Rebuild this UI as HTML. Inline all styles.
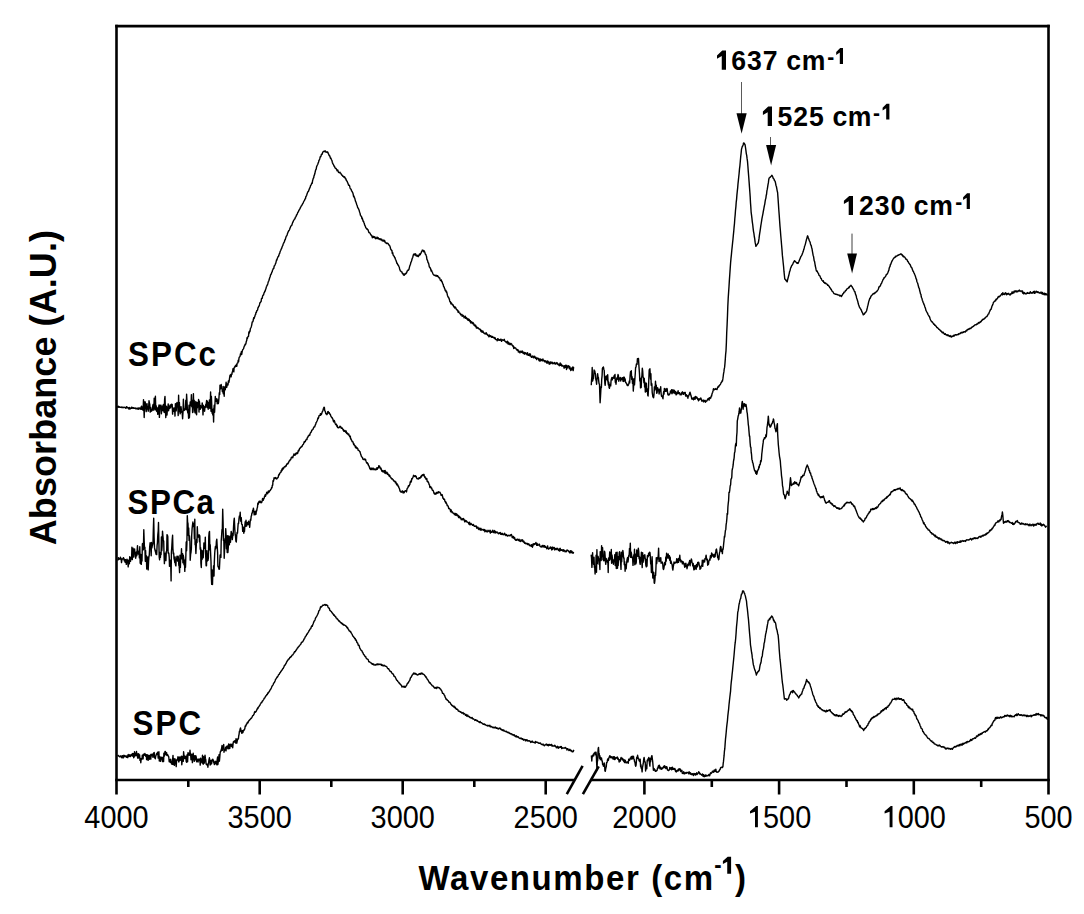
<!DOCTYPE html>
<html><head><meta charset="utf-8"><style>
html,body{margin:0;padding:0;background:#fff;}
svg{display:block;}
text{font-family:"Liberation Sans",sans-serif;fill:#000;}
</style></head><body>
<svg width="1084" height="914" viewBox="0 0 1084 914">
<rect width="1084" height="914" fill="#fff"/>
<g fill="none" stroke="#000" stroke-width="1.4" stroke-linejoin="round" stroke-linecap="round">
<polyline points="117.0,406.7 117.4,407.0 117.8,406.9 118.2,406.2 118.6,407.2 119.0,407.1 119.4,406.7 119.8,407.3 120.2,407.2 120.6,407.3 121.0,407.2 121.4,407.5 121.8,407.0 122.2,407.3 122.6,407.2 123.0,407.8 123.4,407.5 123.8,407.4 124.2,407.2 124.6,407.5 124.9,407.6 125.3,407.5 125.7,408.3 126.1,408.2 126.5,406.6 126.9,406.9 127.3,407.7 127.7,407.6 128.1,408.0 128.4,408.0 128.8,409.0 129.2,407.4 129.6,407.8 130.0,409.0 130.4,408.4 130.8,408.4 131.2,407.8 131.6,407.2 131.9,408.2 132.3,408.2 132.7,407.5 133.1,407.9 133.5,408.2 133.9,407.8 134.3,408.3 134.7,408.4 135.1,408.4 135.4,408.1 135.8,408.8 136.2,408.9 136.6,408.7 137.0,408.0 137.4,408.9 137.8,408.3 138.1,409.1 138.5,408.0 138.9,409.2 139.3,408.6 139.7,407.9 140.0,408.5 140.4,408.8 140.8,409.2 141.2,406.9 141.6,406.2 141.9,409.4 142.3,407.1 142.7,408.8 143.1,410.3 143.5,399.8 143.8,406.5 144.2,417.5 144.6,403.4 145.0,401.6 145.4,402.9 145.8,407.9 146.2,411.6 146.6,407.7 147.0,403.6 147.4,409.0 147.8,407.0 148.2,411.2 148.6,408.2 149.0,400.7 149.4,402.8 149.8,404.4 150.2,412.1 150.6,407.5 151.0,410.1 151.4,411.2 151.8,410.0 152.2,410.4 152.6,406.7 153.0,404.7 153.4,404.2 153.8,410.3 154.2,398.1 154.6,407.7 155.0,409.0 155.4,396.2 155.8,410.0 156.2,405.7 156.6,411.3 157.0,407.4 157.4,411.1 157.8,414.4 158.2,411.9 158.6,407.5 159.0,405.0 159.4,417.4 159.8,408.7 160.2,405.1 160.6,407.2 161.0,405.3 161.4,413.8 161.8,407.2 162.2,408.0 162.6,405.9 163.0,410.8 163.4,404.4 163.8,410.0 164.2,412.5 164.6,399.5 165.0,396.4 165.4,409.0 165.8,417.6 166.2,406.1 166.6,406.8 167.0,415.0 167.4,409.1 167.8,409.5 168.2,403.9 168.6,410.8 169.0,406.2 169.4,408.6 169.8,407.1 170.2,405.0 170.6,407.9 171.0,405.8 171.4,404.1 171.8,404.7 172.2,404.4 172.6,414.1 173.0,408.0 173.4,408.3 173.8,411.2 174.2,408.0 174.6,409.2 175.0,416.1 175.4,403.8 175.8,403.9 176.2,410.9 176.6,404.4 177.0,402.4 177.4,403.4 177.8,406.4 178.2,415.6 178.6,395.3 179.0,411.6 179.4,402.5 179.8,410.7 180.2,413.8 180.6,408.6 181.0,406.7 181.4,410.2 181.8,412.6 182.2,413.0 182.6,418.8 183.0,412.1 183.4,399.3 183.8,410.6 184.2,410.3 184.6,410.1 185.0,408.7 185.4,408.6 185.8,400.3 186.2,409.7 186.6,394.3 187.0,401.5 187.4,409.3 187.8,412.8 188.2,410.3 188.6,418.3 189.0,405.2 189.4,417.7 189.8,411.0 190.2,402.0 190.6,402.5 191.0,405.6 191.4,394.6 191.8,406.8 192.2,400.2 192.6,412.6 193.0,411.9 193.4,393.6 193.8,407.5 194.2,400.1 194.6,410.2 195.0,412.7 195.4,407.6 195.8,401.5 196.2,413.5 196.6,414.7 197.0,402.4 197.4,407.8 197.8,402.9 198.2,404.9 198.6,399.5 199.0,412.1 199.4,401.3 199.8,405.0 200.2,409.3 200.6,405.7 201.0,407.9 201.4,406.6 201.8,407.7 202.2,402.9 202.6,405.1 203.0,414.9 203.4,405.4 203.8,407.5 204.2,406.6 204.6,411.2 205.0,407.0 205.4,407.3 205.8,404.3 206.2,404.1 206.6,400.5 207.0,407.5 207.4,401.3 207.8,404.0 208.2,409.3 208.6,402.8 209.0,407.1 209.4,400.0 209.8,408.4 210.2,406.8 210.6,391.9 211.0,411.2 211.4,396.5 211.8,406.7 212.1,413.3 212.5,412.2 212.8,415.0 213.2,409.2 213.6,422.0 213.9,409.8 214.2,405.3 214.6,412.2 214.9,405.4 215.3,396.5 215.7,401.1 216.0,399.8 216.4,401.4 216.8,398.6 217.2,403.8 217.5,400.7 217.9,400.0 218.3,403.5 218.6,402.0 219.0,397.3 219.3,392.8 219.7,394.4 220.0,385.1 220.4,386.5 220.8,388.8 221.2,384.5 221.6,387.4 222.0,386.6 222.3,391.4 222.7,389.3 223.0,392.5 223.4,393.8 223.8,386.5 224.2,396.3 224.5,388.2 224.9,387.1 225.3,389.7 225.7,386.6 226.1,382.3 226.5,387.2 226.8,387.2 227.2,383.9 227.6,383.9 228.0,385.0 228.4,380.9 228.8,382.5 229.2,380.8 229.6,377.9 230.0,375.3 230.4,376.6 230.8,374.4 231.1,376.8 231.5,374.3 231.9,374.4 232.2,372.2 232.6,371.5 233.0,368.7 233.4,370.6 233.8,371.9 234.1,368.0 234.5,367.1 234.9,367.3 235.2,366.3 235.6,365.4 236.0,366.2 236.4,364.7 236.8,366.3 237.1,363.4 237.5,362.9 237.9,362.9 238.2,360.3 238.6,361.7 239.0,358.1 239.4,357.0 239.8,356.7 240.1,356.1 240.5,353.7 240.9,354.5 241.3,351.8 241.7,354.5 242.1,352.0 242.4,350.6 242.8,349.5 243.2,349.2 243.6,348.6 244.0,346.9 244.4,345.9 244.8,345.6 245.1,344.1 245.5,344.5 245.9,343.6 246.3,341.4 246.7,340.7 247.0,337.8 247.4,338.6 247.8,336.9 248.2,336.4 248.5,336.4 248.9,331.9 249.3,333.2 249.6,331.0 250.0,331.5 250.4,328.6 250.7,328.0 251.1,327.3 251.4,326.4 251.8,324.6 252.1,322.6 252.5,321.6 252.9,321.7 253.3,320.0 253.7,317.7 254.1,318.6 254.4,317.3 254.8,316.6 255.2,314.8 255.6,314.6 256.0,312.3 256.4,312.4 256.8,310.7 257.2,310.5 257.6,309.8 258.0,307.7 258.4,307.2 258.8,306.3 259.1,306.0 259.5,304.7 259.9,302.6 260.3,302.6 260.7,301.8 261.1,301.6 261.5,298.6 261.9,298.2 262.3,298.2 262.6,296.0 263.0,295.2 263.4,295.1 263.7,294.4 264.1,292.7 264.5,292.3 264.8,291.2 265.2,291.0 265.6,289.3 265.9,288.9 266.3,287.1 266.7,286.3 267.1,285.3 267.5,284.8 267.9,283.4 268.3,281.7 268.6,281.3 269.0,280.2 269.4,278.7 269.8,277.6 270.2,276.5 270.6,274.7 271.0,274.6 271.4,273.6 271.8,272.1 272.2,271.9 272.6,269.9 273.0,269.3 273.4,268.3 273.8,268.5 274.2,265.9 274.6,265.8 275.0,265.0 275.4,263.8 275.8,263.2 276.2,261.3 276.6,259.7 276.9,260.1 277.3,258.3 277.7,257.7 278.1,256.4 278.5,256.4 278.9,255.3 279.3,253.7 279.7,253.4 280.0,252.1 280.4,251.0 280.8,250.2 281.2,249.1 281.6,248.5 282.0,247.3 282.4,246.1 282.8,245.6 283.2,243.9 283.6,243.3 284.0,242.4 284.4,241.8 284.8,240.0 285.2,239.9 285.6,238.3 286.0,237.1 286.4,236.0 286.8,235.7 287.2,234.5 287.6,233.2 288.0,232.3 288.3,231.6 288.7,230.7 289.1,230.5 289.5,229.7 289.9,228.6 290.3,227.5 290.7,226.5 291.1,225.9 291.5,225.4 291.9,225.1 292.2,223.9 292.6,222.6 293.0,222.0 293.4,221.0 293.8,220.1 294.2,219.6 294.6,218.9 295.0,218.8 295.3,217.3 295.7,217.0 296.1,216.4 296.5,215.0 296.9,214.8 297.3,213.8 297.7,212.6 298.1,212.2 298.5,211.4 298.8,210.6 299.2,209.9 299.6,209.3 300.0,208.7 300.4,207.5 300.8,207.1 301.2,205.9 301.6,205.8 301.9,205.2 302.3,204.4 302.7,203.7 303.1,203.1 303.5,202.0 303.9,201.2 304.3,200.6 304.7,199.9 305.1,198.8 305.5,198.6 305.8,196.8 306.2,196.3 306.6,195.5 307.0,194.1 307.4,193.0 307.8,192.0 308.2,191.6 308.6,191.0 309.0,189.8 309.4,188.9 309.8,187.8 310.2,187.2 310.6,185.3 311.0,185.3 311.4,184.3 311.8,182.9 312.2,183.3 312.6,180.7 312.9,179.6 313.3,178.2 313.7,177.8 314.0,175.8 314.4,175.1 314.8,173.8 315.1,172.4 315.5,170.5 315.9,169.5 316.2,169.1 316.6,166.7 317.0,165.8 317.4,165.0 317.8,164.2 318.2,162.9 318.6,162.0 319.0,160.2 319.4,159.9 319.8,158.7 320.2,156.8 320.6,156.9 321.0,156.1 321.4,154.4 321.8,154.2 322.2,154.2 322.6,152.6 323.0,151.9 323.4,151.7 323.8,151.5 324.2,151.0 324.6,151.5 324.9,151.5 325.3,150.9 325.7,151.7 326.0,152.3 326.4,152.1 326.8,152.1 327.1,151.8 327.5,152.3 327.9,152.2 328.2,153.6 328.6,154.0 329.0,155.2 329.3,155.7 329.7,155.8 330.1,157.0 330.4,158.2 330.8,157.9 331.2,159.0 331.5,159.8 331.9,160.4 332.3,162.2 332.6,163.2 333.0,163.9 333.4,164.5 333.7,165.2 334.1,166.2 334.5,166.3 334.8,167.4 335.2,168.0 335.6,168.4 335.9,168.3 336.3,169.1 336.7,169.5 337.0,170.7 337.4,170.6 337.8,170.1 338.2,171.4 338.5,172.4 338.9,172.3 339.3,172.8 339.7,172.8 340.1,172.3 340.4,172.8 340.8,173.4 341.2,174.2 341.6,174.8 342.0,175.3 342.3,175.3 342.7,176.2 343.1,176.1 343.5,176.3 343.9,177.3 344.2,177.0 344.6,176.8 345.0,177.7 345.4,178.9 345.8,178.6 346.2,180.1 346.6,180.8 346.9,181.1 347.3,181.7 347.7,182.9 348.1,183.6 348.5,185.0 348.9,185.4 349.3,185.3 349.7,186.3 350.0,187.7 350.4,188.9 350.8,188.9 351.2,189.6 351.6,191.0 352.0,191.3 352.4,192.2 352.8,192.9 353.2,194.3 353.6,196.6 354.0,196.1 354.4,197.8 354.8,198.3 355.2,200.1 355.6,201.5 356.0,202.1 356.4,203.6 356.8,204.7 357.2,205.7 357.6,207.3 358.0,208.0 358.4,208.6 358.8,209.5 359.2,210.6 359.6,212.2 360.0,213.0 360.4,215.2 360.8,216.0 361.2,216.0 361.6,216.9 361.9,218.7 362.3,218.1 362.7,219.7 363.1,221.2 363.5,221.3 363.9,222.5 364.3,223.5 364.6,224.9 365.0,225.6 365.4,226.6 365.8,227.7 366.2,228.0 366.6,229.1 367.0,228.8 367.4,229.0 367.7,229.5 368.1,230.1 368.5,231.2 368.9,232.5 369.3,232.7 369.7,232.9 370.1,233.2 370.5,234.1 370.8,234.7 371.2,235.2 371.6,235.4 372.0,236.4 372.4,237.7 372.8,236.3 373.2,237.2 373.6,236.4 374.0,237.6 374.4,237.2 374.8,236.7 375.1,237.8 375.5,238.7 375.9,238.0 376.3,238.5 376.7,238.0 377.1,237.1 377.5,238.5 377.9,238.1 378.3,237.8 378.7,239.0 379.1,238.9 379.4,238.7 379.8,239.5 380.2,238.8 380.6,239.7 381.0,239.1 381.4,240.0 381.8,239.3 382.1,240.7 382.5,240.3 382.9,241.0 383.3,240.1 383.7,240.6 384.1,241.5 384.5,240.3 384.9,241.2 385.3,242.6 385.7,242.6 386.1,243.2 386.4,242.9 386.8,243.6 387.2,243.3 387.6,243.3 388.0,243.4 388.4,244.3 388.8,244.6 389.2,245.4 389.6,245.4 390.0,246.4 390.4,248.0 390.7,249.2 391.1,249.6 391.5,250.3 391.9,250.4 392.3,253.4 392.7,252.7 393.1,254.9 393.5,255.7 393.8,255.9 394.2,256.3 394.6,257.5 395.0,257.7 395.4,259.2 395.8,260.0 396.2,261.1 396.6,262.2 396.9,263.4 397.3,263.2 397.7,264.8 398.1,264.7 398.5,265.5 398.9,266.5 399.3,267.2 399.6,269.0 400.0,269.9 400.4,270.9 400.8,271.1 401.2,271.7 401.5,271.8 401.9,272.0 402.3,273.3 402.6,273.7 403.0,273.5 403.4,274.8 403.7,274.1 404.1,275.4 404.5,274.7 404.9,274.2 405.3,273.4 405.7,274.0 406.1,273.3 406.5,273.1 406.9,272.1 407.3,270.8 407.7,270.8 408.1,269.9 408.5,270.2 408.9,269.5 409.3,267.8 409.7,266.2 410.1,265.1 410.5,264.2 410.9,262.2 411.2,261.9 411.6,260.7 412.0,259.2 412.4,258.1 412.8,257.2 413.2,255.5 413.6,254.3 414.0,254.0 414.4,254.0 414.8,255.1 415.2,254.0 415.6,253.8 416.0,255.6 416.3,255.9 416.7,255.3 417.1,255.2 417.5,256.3 417.9,255.6 418.3,256.7 418.7,255.1 419.1,255.6 419.5,253.9 419.9,254.4 420.3,254.7 420.7,253.1 421.1,253.1 421.5,251.7 421.9,251.0 422.3,250.1 422.7,250.8 423.1,250.5 423.4,251.7 423.8,250.4 424.2,251.2 424.5,251.6 424.9,252.6 425.3,254.2 425.7,254.2 426.1,255.3 426.5,256.3 426.9,259.4 427.3,260.0 427.7,261.1 428.1,262.8 428.5,262.9 428.9,264.6 429.3,266.8 429.7,267.3 430.0,267.9 430.4,268.0 430.8,269.7 431.2,271.1 431.5,270.2 431.9,271.6 432.3,272.1 432.7,273.3 433.0,273.9 433.4,274.5 433.8,274.9 434.2,275.4 434.6,275.1 435.0,275.4 435.4,275.5 435.8,275.9 436.1,275.3 436.5,275.5 436.9,276.3 437.3,275.6 437.7,275.6 438.1,276.8 438.5,277.0 438.9,277.5 439.3,278.1 439.7,277.9 440.1,279.4 440.5,280.5 440.9,280.6 441.3,279.9 441.7,281.5 442.1,281.7 442.5,283.0 442.8,284.1 443.2,284.3 443.6,286.6 444.0,286.7 444.4,288.1 444.8,288.9 445.1,290.2 445.5,291.0 445.9,290.4 446.3,292.2 446.7,291.8 447.1,293.7 447.4,295.2 447.8,296.2 448.2,297.4 448.6,297.3 449.0,298.6 449.4,299.4 449.7,300.9 450.1,302.0 450.5,301.8 450.9,303.8 451.3,302.9 451.7,303.2 452.0,304.2 452.4,304.8 452.8,305.1 453.2,304.9 453.6,306.6 454.0,306.3 454.4,307.6 454.8,308.0 455.1,306.9 455.5,307.6 455.9,308.0 456.3,309.2 456.7,309.6 457.1,310.2 457.5,310.0 457.9,311.2 458.2,312.3 458.6,311.1 459.0,312.3 459.4,313.0 459.8,313.1 460.2,313.4 460.6,314.9 461.0,314.9 461.4,314.9 461.8,314.3 462.2,316.4 462.6,315.6 462.9,315.3 463.3,315.8 463.7,316.0 464.1,317.9 464.5,317.0 464.9,317.3 465.3,316.2 465.7,318.3 466.1,317.5 466.5,317.8 466.9,319.1 467.3,318.5 467.7,319.9 468.1,320.4 468.5,318.9 468.9,320.2 469.3,319.6 469.7,320.9 470.0,321.8 470.4,320.7 470.8,323.0 471.2,322.0 471.6,321.7 472.0,322.7 472.4,323.6 472.8,322.5 473.2,323.7 473.6,323.2 474.0,325.2 474.4,324.9 474.8,324.9 475.1,326.2 475.5,325.1 475.9,326.0 476.3,327.8 476.7,326.9 477.1,328.2 477.5,327.8 477.9,327.6 478.3,328.3 478.7,328.8 479.1,328.9 479.4,329.0 479.8,329.4 480.2,329.3 480.6,330.7 481.0,331.2 481.4,331.7 481.8,330.3 482.2,332.2 482.6,331.9 483.0,331.2 483.4,332.4 483.8,333.1 484.2,333.1 484.6,333.5 484.9,333.8 485.3,334.0 485.7,333.7 486.1,332.6 486.5,333.6 486.9,334.6 487.3,334.3 487.7,335.3 488.1,335.6 488.5,335.3 488.9,336.7 489.3,335.0 489.7,336.5 490.1,335.8 490.5,335.8 490.9,336.8 491.3,336.3 491.7,337.4 492.1,336.3 492.5,337.3 492.9,336.9 493.2,337.5 493.6,337.6 494.0,337.3 494.4,338.6 494.8,337.6 495.2,338.0 495.6,339.4 496.0,339.6 496.4,339.6 496.8,339.6 497.2,340.9 497.6,338.7 498.0,339.0 498.4,338.9 498.8,340.2 499.2,339.8 499.6,340.4 499.9,340.4 500.3,339.6 500.7,339.2 501.1,339.2 501.5,341.4 501.9,340.6 502.3,340.3 502.7,339.8 503.1,340.1 503.5,340.2 503.9,340.4 504.3,339.3 504.7,341.0 505.1,341.1 505.5,341.7 505.9,341.9 506.3,342.5 506.6,342.2 507.0,343.0 507.4,341.1 507.8,342.1 508.2,344.2 508.6,342.5 509.0,343.3 509.4,344.2 509.8,343.3 510.2,344.7 510.6,343.4 511.0,343.4 511.4,344.1 511.8,344.2 512.2,345.6 512.6,345.7 513.0,346.5 513.3,345.9 513.7,348.5 514.1,347.1 514.5,347.5 514.9,348.1 515.3,348.0 515.7,348.0 516.1,348.8 516.5,349.7 516.9,349.8 517.3,350.3 517.7,349.6 518.0,349.8 518.4,352.0 518.8,350.8 519.2,351.6 519.6,352.1 520.0,352.9 520.4,351.2 520.8,352.0 521.2,352.1 521.6,352.3 522.0,351.0 522.4,352.7 522.8,351.3 523.2,353.2 523.6,353.5 524.0,353.7 524.4,352.5 524.8,354.2 525.2,353.0 525.5,352.8 525.9,353.1 526.3,353.4 526.7,354.2 527.1,354.9 527.5,352.8 527.9,354.1 528.3,355.3 528.7,354.9 529.1,355.2 529.5,353.8 529.9,355.8 530.3,354.0 530.7,355.5 531.1,356.7 531.5,357.3 531.9,356.4 532.3,356.9 532.7,355.9 533.1,356.2 533.5,357.7 533.9,357.0 534.2,357.0 534.6,356.2 535.0,357.7 535.4,358.3 535.8,357.3 536.2,357.7 536.6,359.6 537.0,358.7 537.4,358.5 537.8,358.0 538.2,358.6 538.6,359.0 539.0,360.5 539.4,358.9 539.8,361.1 540.2,358.9 540.6,359.5 540.9,360.7 541.3,359.9 541.7,359.5 542.1,360.2 542.5,360.8 542.9,359.0 543.3,360.4 543.7,360.7 544.1,360.5 544.5,361.7 544.9,360.6 545.3,360.9 545.6,361.4 546.0,362.2 546.4,361.4 546.8,363.1 547.2,361.0 547.6,363.1 548.0,361.3 548.4,362.0 548.8,362.6 549.2,364.2 549.6,363.2 550.0,362.0 550.4,363.7 550.7,362.3 551.1,361.9 551.5,363.1 551.9,362.8 552.3,363.7 552.7,362.3 553.1,363.3 553.5,363.6 553.9,363.3 554.3,363.1 554.7,362.5 555.1,364.1 555.4,363.4 555.8,363.9 556.2,363.1 556.6,363.5 557.0,362.6 557.4,363.7 557.8,364.5 558.2,364.0 558.6,364.9 559.0,364.5 559.4,365.7 559.8,364.3 560.2,363.0 560.6,365.3 561.0,364.9 561.4,364.2 561.8,366.0 562.1,365.8 562.5,366.1 562.9,365.5 563.3,366.2 563.7,366.4 564.1,368.2 564.5,365.8 564.9,366.7 565.3,367.2 565.7,365.2 566.1,365.4 566.5,369.5 566.9,365.4 567.3,368.0 567.7,366.6 568.1,366.8 568.5,365.6 568.9,366.8 569.3,368.7 569.7,366.5 570.0,368.7 570.4,368.5 570.8,370.5 571.2,367.9 571.6,369.9 572.0,369.6 572.4,368.4 572.8,367.0 573.2,370.6 573.6,367.5"/>
<polyline points="591.3,384.6 591.6,379.2 591.9,376.3 592.2,367.4 592.5,381.1 592.8,380.5 593.1,377.4 593.5,378.5 593.8,374.7 594.1,370.0 594.5,372.3 594.8,371.0 595.2,373.5 595.5,374.6 595.9,380.2 596.2,380.4 596.6,384.2 597.0,378.7 597.3,378.8 597.6,373.7 598.0,376.8 598.4,377.6 598.7,380.8 599.1,383.8 599.5,384.2 599.8,394.3 600.1,402.7 600.5,396.6 600.8,391.1 601.1,386.5 601.4,387.5 601.7,379.4 602.1,375.6 602.4,368.4 602.8,367.4 603.1,367.7 603.4,366.9 603.8,369.2 604.2,370.4 604.5,377.2 604.9,383.8 605.2,385.3 605.6,378.6 605.9,376.4 606.3,375.9 606.6,379.3 607.0,377.2 607.4,380.7 607.7,374.7 608.1,382.9 608.4,385.0 608.8,382.3 609.1,387.7 609.5,388.3 609.9,384.5 610.3,384.8 610.7,385.9 611.1,380.3 611.5,378.8 611.9,377.5 612.3,379.9 612.7,377.8 613.1,377.4 613.5,377.2 613.9,378.3 614.2,375.6 614.6,375.3 615.0,374.5 615.3,382.2 615.6,380.6 616.0,384.2 616.4,380.3 616.8,378.0 617.2,379.6 617.6,377.7 618.0,374.5 618.4,375.5 618.8,381.2 619.2,378.6 619.6,379.1 619.9,378.0 620.3,377.5 620.7,381.0 621.1,379.3 621.5,378.3 621.9,379.3 622.3,377.6 622.7,379.6 623.1,381.3 623.5,377.1 623.9,381.5 624.3,377.1 624.7,379.8 625.1,378.9 625.4,381.2 625.8,382.8 626.2,382.9 626.6,383.5 626.9,384.6 627.3,385.4 627.7,385.0 628.1,385.4 628.5,384.6 628.9,383.6 629.3,381.0 629.7,382.9 630.1,375.9 630.5,371.8 630.9,375.9 631.3,370.7 631.7,379.4 632.1,376.6 632.5,383.4 632.9,378.9 633.3,391.1 633.7,384.5 634.1,378.6 634.5,384.9 634.9,378.6 635.3,373.1 635.6,367.5 636.0,367.2 636.4,364.0 636.7,364.3 637.1,364.2 637.4,358.8 637.8,358.8 638.1,358.5 638.5,358.5 638.8,363.9 639.1,368.4 639.5,373.9 639.8,381.0 640.2,378.3 640.5,387.9 640.9,381.5 641.2,387.5 641.6,377.1 641.9,376.2 642.3,368.2 642.7,371.2 643.1,377.2 643.5,377.7 643.9,382.7 644.3,378.5 644.6,387.0 645.0,382.2 645.3,392.1 645.7,385.7 646.0,391.3 646.4,383.2 646.7,391.4 647.1,388.6 647.4,391.8 647.8,395.4 648.1,396.0 648.5,388.1 648.8,379.9 649.2,369.7 649.6,370.2 649.9,368.8 650.2,373.9 650.6,379.1 650.9,373.7 651.2,385.2 651.6,383.1 651.9,384.4 652.2,392.3 652.6,394.9 652.9,397.0 653.3,396.4 653.6,397.7 654.0,394.5 654.4,386.9 654.7,390.4 655.1,389.1 655.5,381.2 655.9,388.9 656.3,385.1 656.7,393.2 657.1,392.7 657.5,387.7 657.9,388.2 658.3,390.8 658.7,389.7 659.1,394.0 659.5,391.7 659.9,389.0 660.3,390.8 660.7,386.7 661.1,393.5 661.5,396.2 661.9,395.8 662.3,396.5 662.6,397.6 663.0,398.8 663.3,394.7 663.7,391.5 664.0,394.1 664.4,388.4 664.8,391.3 665.1,389.7 665.5,391.3 665.8,389.0 666.1,391.3 666.5,389.9 666.9,388.4 667.2,389.0 667.5,391.9 667.9,394.7 668.2,394.2 668.6,395.1 669.0,394.1 669.4,394.7 669.8,393.7 670.1,393.0 670.5,391.0 670.9,392.8 671.3,392.4 671.6,389.6 672.0,393.8 672.4,392.2 672.7,391.1 673.0,389.7 673.4,392.7 673.8,392.7 674.1,391.6 674.5,390.3 674.9,393.5 675.3,391.7 675.7,391.8 676.1,394.8 676.5,394.6 676.9,393.3 677.3,392.1 677.7,393.6 678.1,390.8 678.4,393.6 678.8,392.9 679.2,392.7 679.6,392.7 680.0,394.7 680.4,394.2 680.8,394.2 681.2,394.8 681.6,392.9 682.0,392.5 682.4,391.8 682.8,393.3 683.1,394.4 683.5,393.5 683.8,394.2 684.1,392.4 684.5,393.1 684.9,392.9 685.2,392.4 685.6,396.0 686.0,395.6 686.4,394.7 686.7,395.3 687.1,396.5 687.5,395.8 687.9,398.2 688.2,395.9 688.6,396.1 689.0,394.8 689.3,394.6 689.6,393.1 690.0,392.2 690.4,393.5 690.7,394.6 691.0,395.8 691.4,396.9 691.8,399.0 692.1,399.2 692.5,398.3 692.8,399.1 693.2,397.9 693.6,399.8 694.0,399.0 694.3,397.3 694.7,399.1 695.1,399.2 695.5,396.5 695.8,397.9 696.2,398.1 696.6,396.9 697.0,397.7 697.3,397.9 697.7,399.2 698.1,399.1 698.5,400.8 698.9,398.6 699.3,399.9 699.6,399.1 700.0,399.4 700.4,398.3 700.8,397.9 701.2,399.0 701.6,400.4 701.9,401.2 702.3,400.6 702.7,400.8 703.1,400.0 703.5,401.8 703.9,401.7 704.3,400.5 704.7,401.0 705.1,400.4 705.5,402.2 705.9,401.6 706.2,401.0 706.6,401.0 707.0,400.8 707.3,400.0 707.6,399.2 708.0,399.0 708.4,398.4 708.7,399.5 709.1,400.2 709.4,397.8 709.8,398.6 710.1,398.5 710.4,397.5 710.8,397.9 711.2,396.0 711.6,396.0 712.0,393.9 712.3,393.1 712.7,392.2 713.1,390.5 713.5,388.6 713.9,389.2 714.3,389.7 714.7,389.2 715.1,389.3 715.4,388.6 715.8,389.1 716.2,389.3 716.6,388.9 717.0,389.6 717.4,388.1 717.8,387.2 718.2,386.4 718.6,386.9 719.0,385.8 719.4,385.7 719.8,384.9 720.2,384.7 720.6,384.0 721.0,382.8 721.3,382.4 721.7,382.1 722.1,380.7 722.5,381.0 722.9,378.7 723.2,376.5 723.5,373.9 723.9,371.9 724.2,369.2 724.6,367.4 725.0,363.1 725.3,359.1 725.6,354.8 726.0,350.9 726.4,342.4 726.7,332.9 727.1,324.9 727.5,315.3 727.8,306.5 728.2,298.4 728.6,292.4 729.0,286.5 729.4,279.9 729.8,274.3 730.2,268.4 730.6,262.7 731.0,258.4 731.4,254.6 731.8,250.3 732.2,246.6 732.6,242.6 733.0,239.0 733.4,234.6 733.8,230.7 734.1,227.1 734.5,223.3 734.8,218.8 735.2,214.6 735.5,210.3 735.9,206.6 736.2,202.4 736.6,199.1 736.9,195.1 737.3,191.1 737.7,187.6 738.0,183.8 738.4,180.1 738.7,177.3 739.1,173.5 739.5,168.9 739.9,165.8 740.3,161.3 740.7,156.9 741.1,153.3 741.5,149.2 741.9,147.9 742.3,146.5 742.7,146.0 743.1,145.0 743.5,143.1 743.9,142.9 744.2,143.5 744.5,143.7 744.8,144.5 745.1,144.9 745.5,147.5 745.9,150.3 746.3,153.6 746.7,155.4 747.1,158.7 747.5,161.4 747.9,166.3 748.3,171.6 748.7,176.5 749.1,181.9 749.5,187.4 749.9,192.7 750.2,197.1 750.5,202.9 750.8,206.8 751.1,211.8 751.5,214.9 751.9,218.1 752.3,221.8 752.7,224.5 753.1,228.2 753.5,231.3 753.9,233.3 754.3,236.5 754.7,238.7 755.1,242.2 755.5,244.0 755.9,246.4 756.3,245.5 756.7,245.1 757.1,244.7 757.5,244.0 757.9,243.3 758.3,242.9 758.7,240.6 759.0,238.7 759.4,235.4 759.7,233.3 760.1,230.8 760.5,228.2 760.8,225.9 761.2,223.5 761.5,221.6 761.9,218.9 762.3,216.9 762.6,215.3 763.0,213.3 763.3,211.3 763.7,209.5 764.1,207.2 764.4,205.7 764.8,203.8 765.1,201.6 765.5,199.4 765.9,198.1 766.2,195.5 766.6,194.0 766.9,190.9 767.3,189.2 767.7,186.6 768.0,184.7 768.4,182.7 768.7,180.0 769.1,178.1 769.5,177.8 769.9,177.4 770.3,177.1 770.6,176.9 771.0,176.4 771.4,175.9 771.8,175.3 772.2,175.8 772.6,176.6 772.9,177.3 773.3,178.4 773.7,178.8 774.1,179.2 774.4,180.5 774.8,180.8 775.2,181.5 775.6,183.4 776.0,185.5 776.4,186.5 776.8,188.6 777.2,190.8 777.6,192.5 778.0,197.9 778.4,203.6 778.8,209.8 779.2,214.9 779.6,220.8 780.0,226.4 780.4,230.9 780.8,236.0 781.2,240.5 781.6,245.3 782.0,249.9 782.4,255.4 782.8,259.0 783.2,263.0 783.6,266.8 784.0,271.7 784.4,275.4 784.8,279.2 785.1,279.3 785.5,279.4 785.8,280.3 786.2,280.7 786.5,280.5 786.9,281.6 787.2,281.8 787.6,279.7 788.0,278.2 788.4,276.7 788.8,275.2 789.2,273.6 789.6,271.5 790.0,270.8 790.4,268.9 790.8,267.6 791.2,267.0 791.5,265.9 791.9,265.5 792.2,265.0 792.6,264.4 793.0,263.5 793.3,262.7 793.7,262.3 794.0,261.5 794.4,260.9 794.8,260.7 795.1,261.6 795.5,261.5 795.8,261.9 796.2,262.3 796.6,262.6 796.9,263.3 797.3,263.1 797.6,262.8 798.0,263.5 798.4,262.4 798.8,261.8 799.2,260.6 799.6,259.7 800.0,258.8 800.4,257.9 800.8,256.7 801.2,256.1 801.6,255.4 802.0,254.9 802.4,253.5 802.8,252.6 803.2,251.6 803.5,250.3 803.9,249.3 804.3,247.7 804.6,246.2 805.0,245.3 805.4,244.1 805.8,242.2 806.1,241.1 806.5,239.3 806.9,238.4 807.2,236.9 807.6,235.8 808.0,236.7 808.3,237.8 808.7,238.7 809.0,239.9 809.4,240.8 809.8,241.5 810.1,242.2 810.5,244.0 810.8,245.0 811.2,245.4 811.6,247.5 812.0,248.7 812.3,250.6 812.7,252.8 813.1,255.2 813.5,256.3 813.8,258.2 814.2,260.8 814.6,261.6 815.0,264.2 815.3,266.0 815.7,267.7 816.1,269.7 816.5,271.0 816.9,270.7 817.3,271.7 817.7,272.4 818.1,273.0 818.5,273.5 818.9,275.1 819.3,275.4 819.7,275.6 820.1,276.6 820.5,277.6 820.9,278.4 821.3,278.5 821.7,279.7 822.1,280.5 822.5,280.8 822.9,281.2 823.3,280.8 823.7,282.2 824.1,282.1 824.5,282.9 824.9,283.3 825.3,282.9 825.7,282.9 826.1,283.9 826.5,283.9 826.9,284.1 827.3,284.3 827.7,285.4 828.1,285.1 828.5,285.3 828.9,286.2 829.3,286.5 829.7,287.5 830.1,287.9 830.5,288.2 830.9,289.3 831.3,289.5 831.7,290.5 832.1,291.2 832.5,291.3 832.9,291.7 833.3,292.5 833.7,293.3 834.1,293.6 834.5,293.8 834.9,293.9 835.3,294.1 835.7,294.3 836.1,294.1 836.5,294.3 836.9,294.5 837.3,294.5 837.7,294.8 838.1,295.1 838.5,295.1 838.9,295.0 839.3,295.1 839.7,296.0 840.1,295.9 840.5,295.4 840.9,295.6 841.3,296.6 841.7,296.0 842.0,295.1 842.4,295.0 842.8,293.7 843.1,293.7 843.5,293.5 843.9,292.2 844.3,292.1 844.6,292.1 845.0,291.7 845.4,290.7 845.7,290.5 846.1,290.5 846.5,289.5 846.9,288.9 847.2,288.9 847.6,288.4 848.0,288.5 848.4,287.8 848.7,287.2 849.1,287.7 849.5,286.5 849.9,286.4 850.2,286.1 850.6,285.8 851.0,285.3 851.4,286.0 851.7,286.4 852.1,286.6 852.4,287.5 852.8,288.1 853.2,288.7 853.5,289.4 853.9,289.8 854.2,291.0 854.6,291.7 855.0,291.8 855.4,293.8 855.8,294.9 856.2,295.7 856.6,297.9 857.0,298.9 857.4,300.2 857.8,301.5 858.2,303.3 858.6,304.7 859.0,305.7 859.4,307.1 859.8,307.6 860.2,308.4 860.6,308.9 861.0,309.8 861.4,310.3 861.7,311.4 862.1,312.2 862.5,312.8 862.9,313.8 863.3,314.9 863.7,314.3 864.1,314.4 864.5,313.7 864.9,313.2 865.3,312.4 865.7,312.3 866.1,311.7 866.5,311.0 866.9,309.5 867.3,307.9 867.7,305.8 868.0,305.2 868.4,303.2 868.8,301.4 869.2,300.2 869.6,299.1 870.0,297.9 870.4,298.0 870.8,296.5 871.2,296.1 871.6,295.4 872.0,295.0 872.4,294.7 872.8,294.2 873.1,293.7 873.5,293.5 873.9,293.8 874.3,293.7 874.7,293.1 875.1,292.5 875.5,292.8 875.8,292.2 876.2,291.9 876.6,291.7 877.0,291.3 877.3,290.6 877.7,290.2 878.1,289.6 878.5,288.8 878.8,287.3 879.2,286.8 879.6,286.7 879.9,286.0 880.3,286.0 880.7,284.7 881.0,283.9 881.4,283.5 881.8,282.8 882.1,281.6 882.5,281.1 882.9,279.9 883.3,279.2 883.6,279.1 884.0,277.6 884.4,277.8 884.7,277.3 885.1,276.9 885.5,276.4 885.9,275.9 886.2,274.6 886.6,274.5 887.0,274.1 887.3,274.1 887.7,273.1 888.1,272.0 888.5,270.9 888.9,270.2 889.2,268.2 889.6,267.1 890.0,266.5 890.4,264.5 890.8,264.4 891.1,263.3 891.5,262.2 891.8,261.7 892.1,260.7 892.5,260.3 892.9,259.5 893.2,259.0 893.6,258.3 893.9,258.1 894.3,257.6 894.7,257.5 895.0,257.5 895.4,256.3 895.8,256.8 896.2,256.2 896.5,256.1 896.9,255.9 897.3,255.9 897.6,255.5 898.0,255.1 898.4,255.2 898.8,254.9 899.1,254.7 899.5,254.6 899.9,254.6 900.2,254.2 900.6,254.0 901.0,253.9 901.3,254.5 901.7,254.3 902.1,255.3 902.5,255.1 902.8,256.1 903.2,256.7 903.6,256.1 903.9,256.9 904.3,256.9 904.7,257.1 905.0,257.5 905.4,258.3 905.8,259.1 906.1,259.2 906.5,259.1 906.9,259.7 907.3,260.4 907.6,261.3 908.0,261.5 908.4,262.1 908.7,263.0 909.1,263.3 909.5,263.9 909.9,264.5 910.2,264.7 910.6,266.0 911.0,266.6 911.3,267.5 911.7,267.4 912.1,268.4 912.4,269.7 912.8,270.4 913.2,271.5 913.5,271.7 913.9,272.8 914.3,273.4 914.7,274.5 915.0,275.1 915.4,276.3 915.8,277.6 916.1,278.7 916.5,279.2 916.8,281.2 917.2,282.2 917.6,283.0 917.9,284.2 918.3,285.7 918.6,287.1 919.0,288.0 919.4,288.9 919.7,290.8 920.1,292.0 920.5,293.9 920.9,294.2 921.2,296.5 921.6,297.7 922.0,298.5 922.3,300.2 922.7,301.0 923.1,302.3 923.4,302.8 923.8,304.1 924.2,304.8 924.5,305.6 924.9,307.0 925.3,307.9 925.7,309.3 926.0,310.6 926.4,311.1 926.8,312.0 927.2,312.8 927.5,313.0 927.9,314.3 928.3,315.0 928.7,315.8 929.1,316.2 929.5,316.7 929.9,318.0 930.2,319.0 930.6,320.0 931.0,320.7 931.4,321.3 931.8,321.4 932.1,322.1 932.5,322.2 932.9,322.9 933.3,323.4 933.7,324.3 934.1,324.1 934.5,324.1 934.8,325.4 935.2,325.2 935.6,325.9 936.0,326.2 936.4,326.4 936.8,327.5 937.2,327.6 937.6,327.7 938.0,328.3 938.3,328.5 938.7,329.2 939.1,329.3 939.5,329.6 939.9,330.0 940.3,330.5 940.7,331.0 941.1,330.9 941.4,331.5 941.8,331.9 942.2,332.8 942.6,332.7 943.0,332.0 943.4,332.8 943.8,333.2 944.1,333.7 944.5,334.4 944.9,334.4 945.3,333.7 945.7,334.6 946.1,334.7 946.5,334.9 946.9,335.4 947.3,334.8 947.7,335.6 948.1,334.9 948.5,335.6 948.9,335.8 949.3,336.5 949.7,335.8 950.1,335.6 950.5,336.5 950.9,336.3 951.3,337.1 951.7,336.2 952.1,336.1 952.4,336.5 952.8,336.1 953.2,336.2 953.6,335.3 954.0,336.1 954.4,335.3 954.7,335.6 955.1,334.9 955.5,334.6 955.9,334.8 956.3,334.8 956.7,335.1 957.0,334.6 957.4,334.6 957.8,334.4 958.2,334.7 958.6,333.7 959.0,334.2 959.4,333.6 959.7,333.6 960.1,333.2 960.5,333.6 960.9,332.7 961.3,332.5 961.7,332.7 962.1,332.3 962.5,332.7 962.9,332.6 963.3,332.0 963.6,332.3 964.0,331.7 964.4,331.8 964.8,331.6 965.2,332.1 965.6,331.3 966.0,330.7 966.4,330.5 966.7,330.9 967.1,329.8 967.5,329.9 967.9,329.7 968.3,328.9 968.7,329.2 969.0,329.4 969.4,328.9 969.8,328.3 970.2,328.6 970.6,328.3 971.0,328.5 971.3,327.4 971.7,327.3 972.1,327.2 972.5,326.9 972.9,326.7 973.3,326.4 973.7,326.0 974.1,325.5 974.4,325.5 974.8,325.0 975.2,324.9 975.6,324.8 976.0,324.9 976.4,324.7 976.8,323.9 977.2,324.1 977.6,324.0 978.0,323.5 978.3,322.8 978.7,322.4 979.1,323.0 979.5,322.8 979.9,322.4 980.3,321.6 980.7,322.0 981.1,321.6 981.5,320.9 981.8,320.5 982.2,319.7 982.6,320.1 983.0,319.1 983.4,319.4 983.8,319.1 984.2,318.6 984.6,318.7 985.0,317.7 985.4,317.7 985.7,317.4 986.1,316.9 986.5,316.4 986.9,316.5 987.3,315.9 987.7,315.1 988.0,314.4 988.4,313.9 988.8,313.9 989.1,312.6 989.5,311.8 989.9,310.9 990.3,310.2 990.6,309.3 991.0,309.4 991.4,308.3 991.8,306.8 992.2,305.6 992.6,305.0 993.0,303.9 993.4,302.5 993.8,302.1 994.2,301.7 994.5,301.2 994.9,301.2 995.3,300.2 995.6,300.8 996.0,299.3 996.4,299.6 996.8,299.3 997.1,298.5 997.5,298.5 997.9,297.2 998.3,296.7 998.6,297.0 999.0,296.3 999.4,296.7 999.8,296.0 1000.2,296.0 1000.6,295.4 1001.0,295.0 1001.3,294.5 1001.7,293.8 1002.1,293.4 1002.5,294.9 1002.8,292.6 1003.2,293.6 1003.6,294.3 1004.0,293.9 1004.3,294.5 1004.7,294.0 1005.1,292.9 1005.4,293.5 1005.8,292.8 1006.2,294.4 1006.5,294.7 1006.9,293.7 1007.2,294.4 1007.6,293.9 1008.0,293.4 1008.3,294.0 1008.7,293.4 1009.0,294.1 1009.4,294.7 1009.8,294.8 1010.1,295.0 1010.5,293.8 1010.9,294.0 1011.3,293.9 1011.6,293.8 1012.0,291.9 1012.4,292.6 1012.8,293.4 1013.1,292.0 1013.5,292.7 1013.9,292.8 1014.3,291.0 1014.6,291.8 1015.0,291.9 1015.4,291.7 1015.8,290.7 1016.2,291.8 1016.6,291.2 1017.0,291.9 1017.4,291.6 1017.8,291.0 1018.1,291.4 1018.5,290.8 1018.9,290.7 1019.3,290.1 1019.7,290.8 1020.1,291.4 1020.5,290.9 1020.9,291.0 1021.3,290.9 1021.7,291.1 1022.1,292.1 1022.5,291.0 1022.9,293.3 1023.2,292.2 1023.6,293.8 1024.0,293.4 1024.4,292.6 1024.8,293.5 1025.2,293.4 1025.6,293.7 1026.0,294.1 1026.4,293.2 1026.8,293.1 1027.2,293.2 1027.6,292.5 1027.9,293.1 1028.3,293.4 1028.7,293.3 1029.1,293.2 1029.5,292.8 1029.9,293.4 1030.3,291.6 1030.7,292.6 1031.1,292.5 1031.5,293.2 1031.8,293.0 1032.2,293.0 1032.6,292.5 1033.0,293.0 1033.4,291.7 1033.8,292.4 1034.2,291.1 1034.6,293.4 1035.0,293.4 1035.4,292.1 1035.8,291.9 1036.2,291.2 1036.6,291.6 1037.0,292.6 1037.4,292.4 1037.8,291.7 1038.2,292.3 1038.6,292.2 1039.0,292.9 1039.4,293.1 1039.8,292.7 1040.2,293.0 1040.6,293.0 1041.0,291.9 1041.4,293.4 1041.8,293.3 1042.1,293.9 1042.5,292.5 1042.9,294.1 1043.3,293.4 1043.7,294.1 1044.1,294.7 1044.5,293.2 1044.9,293.4 1045.3,294.8 1045.7,293.6 1046.1,293.8 1046.5,294.8 1046.9,294.3 1047.3,295.0"/>
<polyline points="118.0,560.0 118.4,557.7 118.8,559.4 119.2,558.7 119.6,558.8 120.0,559.0 120.4,557.1 120.8,559.1 121.1,558.3 121.5,562.6 121.9,559.8 122.3,559.0 122.7,559.1 123.1,558.4 123.5,557.7 123.9,558.9 124.3,560.8 124.7,559.4 125.1,562.2 125.5,559.7 125.9,560.3 126.3,564.4 126.6,562.0 127.0,559.2 127.4,560.2 127.8,562.5 128.2,566.9 128.6,560.2 129.0,560.4 129.4,563.8 129.7,556.7 130.1,558.0 130.5,561.4 130.8,559.6 131.2,557.1 131.6,558.9 131.9,547.3 132.3,559.6 132.7,551.6 133.1,548.3 133.4,555.7 133.8,557.0 134.2,552.0 134.6,548.9 134.9,553.0 135.3,552.3 135.7,558.2 136.1,554.9 136.4,552.0 136.8,555.7 137.2,549.3 137.5,545.6 137.9,552.1 138.3,554.0 138.7,552.1 139.0,551.2 139.4,557.9 139.8,546.8 140.2,563.2 140.5,563.6 140.9,554.4 141.3,564.4 141.7,555.9 142.0,561.1 142.4,543.8 142.7,546.0 143.1,543.2 143.4,549.7 143.8,529.7 144.2,541.2 144.5,548.5 144.9,547.1 145.3,561.3 145.6,550.5 146.0,561.5 146.4,555.6 146.7,569.1 147.1,563.1 147.4,562.6 147.8,557.0 148.2,569.9 148.6,561.1 148.9,557.0 149.3,554.8 149.7,546.7 150.1,542.8 150.4,542.9 150.8,543.9 151.2,555.7 151.5,542.5 151.9,547.8 152.3,545.7 152.6,544.8 153.0,543.1 153.3,530.4 153.7,518.3 154.1,537.2 154.5,547.4 154.8,549.3 155.2,550.7 155.6,552.2 156.0,554.2 156.3,550.4 156.7,554.6 157.1,545.4 157.4,543.0 157.8,534.8 158.2,531.0 158.5,522.4 158.9,543.1 159.2,556.9 159.6,559.8 160.0,552.5 160.4,557.4 160.7,552.5 161.1,554.6 161.4,537.0 161.8,550.6 162.1,546.5 162.5,531.1 162.9,535.9 163.3,539.9 163.7,541.1 164.0,553.4 164.4,563.6 164.8,555.6 165.2,553.1 165.6,556.5 165.9,560.6 166.3,551.6 166.7,550.8 167.0,534.6 167.4,535.1 167.8,536.7 168.1,552.9 168.5,553.3 168.8,553.1 169.2,557.1 169.5,566.4 169.9,565.1 170.3,560.1 170.7,563.4 171.1,580.9 171.4,552.2 171.8,546.8 172.2,539.9 172.6,535.3 172.9,548.3 173.3,553.7 173.7,553.1 174.0,558.5 174.4,560.0 174.8,562.6 175.1,556.9 175.5,564.8 175.9,565.9 176.2,559.8 176.6,559.6 177.0,556.1 177.3,556.8 177.7,561.1 178.1,556.2 178.5,559.0 178.8,565.3 179.2,565.9 179.6,572.6 180.0,555.1 180.4,567.4 180.7,558.3 181.1,558.9 181.5,548.8 181.8,558.7 182.2,556.0 182.6,553.6 182.9,562.8 183.3,555.3 183.7,558.0 184.0,564.7 184.4,559.9 184.8,571.4 185.1,563.5 185.5,567.2 185.9,554.0 186.2,542.0 186.6,550.7 186.9,543.6 187.3,515.6 187.6,521.8 188.0,523.6 188.4,535.6 188.7,528.0 189.1,540.4 189.5,535.8 189.9,541.3 190.2,560.3 190.6,554.4 191.0,552.4 191.4,548.2 191.7,535.1 192.1,528.7 192.5,525.1 192.9,522.0 193.2,525.3 193.6,526.6 194.0,523.7 194.4,538.7 194.8,519.3 195.1,544.7 195.5,544.6 195.9,553.5 196.3,545.2 196.6,539.1 197.0,542.6 197.3,526.7 197.7,535.2 198.0,537.0 198.4,536.9 198.8,537.3 199.1,534.8 199.5,541.8 199.8,535.7 200.2,549.3 200.6,547.8 200.9,563.1 201.3,567.5 201.7,550.2 202.1,559.5 202.4,556.9 202.8,551.0 203.2,557.7 203.6,551.5 203.9,542.9 204.3,548.3 204.6,546.9 205.0,546.1 205.3,537.3 205.7,555.9 206.1,565.8 206.5,565.8 206.9,550.7 207.2,561.1 207.6,553.7 208.0,560.3 208.4,558.0 208.8,536.6 209.1,532.7 209.5,531.4 209.9,550.1 210.2,544.6 210.6,553.0 211.0,561.8 211.3,576.1 211.7,584.4 212.1,570.0 212.5,584.5 212.8,572.9 213.2,574.9 213.6,565.6 214.0,576.1 214.3,562.4 214.7,553.5 215.0,549.8 215.4,546.5 215.7,548.7 216.1,546.6 216.4,541.1 216.8,539.1 217.2,546.3 217.6,552.4 217.9,566.1 218.3,566.9 218.7,568.0 219.0,569.2 219.4,569.1 219.8,560.9 220.1,555.0 220.5,557.4 220.9,557.4 221.2,540.9 221.6,535.6 222.0,529.5 222.3,530.4 222.7,509.2 223.1,522.4 223.4,540.6 223.8,538.6 224.2,558.2 224.6,549.8 224.9,540.7 225.3,540.8 225.7,528.6 226.1,535.3 226.4,548.8 226.8,537.8 227.2,552.6 227.5,535.6 227.9,552.5 228.3,547.1 228.6,535.9 229.0,542.4 229.4,544.8 229.7,538.0 230.1,536.3 230.5,542.3 230.8,536.8 231.2,531.4 231.6,534.3 231.9,533.1 232.3,539.6 232.7,535.9 233.1,535.7 233.5,527.6 233.9,521.0 234.3,518.1 234.7,526.8 235.1,534.2 235.5,536.2 235.9,541.2 236.3,542.0 236.7,535.5 237.1,532.4 237.5,533.2 237.9,527.1 238.2,523.2 238.6,523.5 239.0,518.5 239.4,515.9 239.8,517.5 240.2,512.2 240.6,521.1 240.9,519.6 241.3,517.7 241.6,523.7 242.0,524.9 242.3,524.5 242.7,531.4 243.0,528.8 243.4,527.3 243.8,533.3 244.1,528.2 244.5,531.5 244.9,524.7 245.2,521.7 245.6,526.4 246.0,520.3 246.3,523.3 246.7,526.0 247.1,523.1 247.5,522.6 247.8,523.0 248.2,524.6 248.6,521.1 249.0,524.0 249.3,523.9 249.7,527.3 250.1,522.2 250.5,519.1 250.8,520.2 251.2,516.2 251.6,515.5 251.9,513.2 252.3,513.0 252.7,510.2 253.0,511.4 253.4,508.1 253.8,510.8 254.2,514.9 254.5,511.7 254.9,512.0 255.3,511.6 255.6,514.6 256.0,514.3 256.4,510.3 256.7,511.0 257.1,508.4 257.5,507.1 257.8,503.2 258.2,504.4 258.6,502.5 258.9,501.7 259.3,501.1 259.7,501.3 260.0,502.6 260.4,501.1 260.8,502.6 261.1,501.9 261.5,502.7 261.9,501.9 262.2,500.7 262.6,498.5 263.0,500.3 263.4,500.1 263.7,498.7 264.1,498.3 264.5,496.5 264.9,495.9 265.2,494.6 265.6,496.2 266.0,494.5 266.4,493.4 266.8,492.2 267.2,492.8 267.6,493.8 268.0,492.5 268.4,491.0 268.8,492.4 269.2,491.9 269.6,491.1 270.0,490.4 270.4,490.3 270.8,489.3 271.2,489.1 271.6,487.4 272.0,487.8 272.3,485.3 272.7,485.3 273.0,480.7 273.4,481.4 273.7,480.2 274.1,477.7 274.5,478.3 274.9,478.6 275.2,478.4 275.6,477.6 276.0,477.9 276.4,478.8 276.7,479.0 277.1,478.1 277.5,478.1 277.9,477.5 278.2,477.4 278.6,475.2 279.0,474.3 279.4,474.7 279.7,473.2 280.1,472.9 280.5,472.7 280.9,472.3 281.2,470.5 281.6,471.2 282.0,468.9 282.4,470.1 282.8,468.1 283.1,467.9 283.5,468.8 283.9,467.6 284.3,466.9 284.7,466.7 285.1,466.9 285.4,466.1 285.8,465.7 286.2,466.0 286.6,464.3 287.0,463.9 287.4,463.3 287.8,463.9 288.1,463.3 288.5,462.9 288.9,461.5 289.3,460.8 289.7,460.9 290.1,459.6 290.5,459.8 290.9,459.2 291.2,457.7 291.6,457.6 292.0,457.0 292.4,457.6 292.8,457.7 293.2,455.9 293.6,455.7 293.9,454.0 294.3,455.3 294.7,454.9 295.1,454.0 295.5,454.9 295.9,453.2 296.2,453.8 296.6,453.7 297.0,452.6 297.4,453.6 297.8,453.1 298.1,451.0 298.5,450.3 298.9,450.9 299.2,449.9 299.6,448.5 300.0,448.4 300.3,447.9 300.7,447.2 301.1,447.2 301.5,446.4 301.9,446.7 302.2,445.9 302.6,444.9 303.0,444.6 303.4,444.2 303.8,443.3 304.2,441.6 304.6,442.3 305.0,441.3 305.3,441.6 305.7,440.2 306.1,439.9 306.5,439.2 306.9,439.5 307.2,438.0 307.6,437.2 308.0,437.0 308.3,436.0 308.7,435.8 309.1,435.1 309.4,434.7 309.8,435.2 310.2,433.2 310.6,432.8 310.9,432.1 311.3,432.0 311.7,430.3 312.1,430.0 312.5,429.8 312.9,429.5 313.2,428.6 313.6,427.7 314.0,426.9 314.4,427.0 314.7,426.8 315.1,425.5 315.4,424.7 315.8,424.1 316.1,422.5 316.5,422.2 316.9,421.3 317.2,420.7 317.6,419.6 317.9,417.9 318.3,418.4 318.6,417.8 319.0,415.6 319.4,415.7 319.7,415.3 320.1,415.3 320.4,413.6 320.8,415.2 321.1,413.6 321.4,414.4 321.8,413.3 322.2,412.1 322.5,411.3 322.9,410.9 323.3,408.9 323.6,408.2 324.0,407.2 324.4,407.6 324.7,410.5 325.1,411.2 325.4,411.9 325.8,413.7 326.1,413.5 326.5,413.8 326.9,414.7 327.3,414.0 327.7,411.8 328.1,411.5 328.5,412.1 328.9,413.2 329.3,412.8 329.6,413.5 330.0,414.6 330.3,414.3 330.7,415.6 331.0,416.5 331.4,416.9 331.8,417.5 332.1,417.5 332.5,418.8 332.9,418.9 333.2,420.6 333.6,421.9 334.0,420.7 334.3,420.4 334.7,422.1 335.1,423.2 335.5,424.2 335.8,424.7 336.2,424.1 336.6,424.7 337.0,426.5 337.3,425.6 337.7,427.5 338.1,427.3 338.5,427.8 338.8,427.6 339.2,427.5 339.5,427.4 339.9,426.2 340.2,426.9 340.6,426.6 341.0,427.2 341.3,428.3 341.7,427.8 342.1,428.0 342.4,428.4 342.8,429.1 343.2,430.3 343.5,429.7 343.9,431.4 344.3,431.1 344.6,431.0 345.0,430.6 345.4,431.8 345.8,432.3 346.1,431.0 346.5,433.0 346.9,433.5 347.3,433.0 347.6,433.3 348.0,434.6 348.4,434.7 348.8,434.1 349.1,435.4 349.5,436.1 349.9,436.8 350.3,436.2 350.6,438.9 351.0,438.8 351.4,440.0 351.8,440.4 352.1,441.6 352.5,441.5 352.9,441.8 353.3,443.2 353.6,444.4 354.0,443.9 354.4,445.6 354.8,445.5 355.1,445.6 355.5,447.5 355.9,446.4 356.3,448.0 356.6,447.6 357.0,448.6 357.4,448.0 357.8,448.7 358.2,450.3 358.6,450.3 358.9,450.6 359.3,450.8 359.7,451.8 360.0,451.6 360.3,452.8 360.7,454.4 361.0,455.0 361.3,456.1 361.7,456.8 362.1,457.2 362.5,457.5 362.8,459.1 363.2,459.0 363.6,459.5 364.0,459.1 364.4,459.2 364.8,459.0 365.1,460.1 365.5,459.3 365.9,460.7 366.3,461.9 366.7,463.0 367.0,463.2 367.4,462.7 367.8,464.1 368.2,463.9 368.5,465.6 368.9,465.6 369.3,466.8 369.7,468.3 370.0,468.1 370.4,469.6 370.8,468.3 371.2,468.1 371.6,469.3 371.9,469.7 372.3,468.4 372.7,468.9 373.1,468.1 373.5,469.0 373.9,469.8 374.2,469.3 374.6,469.1 375.0,468.7 375.4,469.9 375.8,469.9 376.2,469.5 376.5,469.0 376.9,467.7 377.3,469.3 377.7,467.9 378.1,467.5 378.5,467.8 378.8,465.6 379.2,466.7 379.6,466.3 380.0,467.4 380.3,468.7 380.7,468.8 381.0,468.1 381.4,469.8 381.7,470.8 382.1,471.5 382.5,470.7 382.8,470.5 383.2,472.0 383.6,471.9 384.0,471.8 384.3,470.7 384.7,473.0 385.1,470.5 385.5,471.8 385.8,473.5 386.2,472.1 386.6,472.8 387.0,472.3 387.4,474.4 387.7,473.2 388.1,474.6 388.5,475.0 388.9,474.7 389.3,476.3 389.7,475.3 390.0,476.2 390.4,477.1 390.8,477.3 391.2,478.3 391.6,479.0 392.0,478.6 392.4,478.8 392.7,479.2 393.1,479.7 393.5,480.8 393.9,480.6 394.3,481.3 394.7,481.4 395.0,481.3 395.4,482.8 395.8,481.9 396.2,483.0 396.6,484.7 397.0,483.7 397.4,485.1 397.7,484.8 398.1,486.2 398.5,486.3 398.9,487.7 399.3,488.3 399.7,489.5 400.0,491.1 400.4,491.0 400.8,491.9 401.2,492.2 401.6,492.0 402.0,491.5 402.3,490.8 402.7,492.0 403.1,492.9 403.5,492.1 403.8,491.4 404.2,492.7 404.6,491.3 405.0,491.1 405.3,490.7 405.7,490.7 406.1,491.1 406.5,491.9 406.9,489.7 407.2,488.4 407.6,488.0 408.0,487.5 408.4,485.8 408.7,486.2 409.1,485.9 409.5,484.9 409.9,484.3 410.2,482.2 410.6,481.1 411.0,482.2 411.4,481.3 411.7,478.7 412.1,479.0 412.5,478.1 412.9,477.6 413.2,476.6 413.6,475.3 414.0,476.0 414.4,476.3 414.7,476.5 415.1,475.6 415.5,475.6 415.9,476.9 416.3,476.6 416.7,478.2 417.0,478.8 417.4,478.8 417.8,478.7 418.2,478.7 418.6,479.1 419.0,477.6 419.3,478.4 419.7,478.0 420.1,477.4 420.5,477.9 420.9,476.2 421.3,477.0 421.7,475.5 422.1,475.3 422.4,474.8 422.8,475.6 423.2,474.4 423.6,474.7 424.0,474.4 424.3,476.3 424.7,477.3 425.0,476.7 425.4,478.1 425.7,477.9 426.1,479.4 426.5,478.9 426.8,478.6 427.2,481.5 427.6,481.3 428.0,481.5 428.3,482.6 428.7,482.8 429.1,484.6 429.5,484.8 429.8,487.3 430.2,487.6 430.6,486.6 431.0,487.2 431.4,488.3 431.7,488.0 432.1,489.7 432.5,490.2 432.9,490.2 433.3,490.9 433.7,492.1 434.0,493.2 434.4,493.8 434.8,493.3 435.2,494.4 435.6,493.2 435.9,493.8 436.3,492.8 436.7,493.7 437.0,492.3 437.4,492.4 437.8,492.9 438.1,493.1 438.5,491.6 438.9,492.1 439.2,492.4 439.6,492.4 440.0,492.2 440.4,493.4 440.7,493.7 441.1,495.4 441.5,495.4 441.9,494.7 442.2,494.7 442.6,496.8 443.0,498.2 443.4,498.2 443.7,499.4 444.1,499.1 444.5,499.2 444.9,501.3 445.3,501.6 445.6,502.7 446.0,502.0 446.4,503.7 446.8,503.9 447.2,505.5 447.5,505.3 447.9,505.9 448.3,506.6 448.7,508.5 449.1,508.4 449.4,508.5 449.8,509.0 450.2,509.7 450.6,511.7 451.0,509.8 451.4,510.7 451.8,512.0 452.1,512.6 452.5,512.0 452.9,512.9 453.3,513.2 453.7,513.6 454.1,513.2 454.4,514.6 454.8,513.9 455.2,515.0 455.6,513.5 455.9,515.2 456.3,513.9 456.7,514.0 457.1,515.6 457.4,515.0 457.8,516.1 458.2,515.4 458.6,517.5 458.9,516.7 459.3,516.2 459.7,517.4 460.1,518.1 460.5,517.3 460.9,518.4 461.2,519.7 461.6,519.2 462.0,518.9 462.4,518.8 462.8,519.9 463.1,518.8 463.5,518.5 463.9,519.9 464.3,519.8 464.7,521.9 465.0,521.0 465.4,520.4 465.8,520.5 466.2,521.8 466.6,521.1 466.9,521.5 467.3,522.0 467.7,522.3 468.1,522.5 468.5,522.7 468.8,523.7 469.2,524.2 469.6,522.1 470.0,524.9 470.4,523.7 470.7,524.6 471.1,523.5 471.5,524.4 471.9,524.5 472.3,524.7 472.6,525.4 473.0,525.4 473.4,524.5 473.8,525.4 474.2,526.2 474.5,526.3 474.9,525.9 475.3,526.1 475.7,526.4 476.1,526.0 476.4,526.1 476.8,528.2 477.2,527.1 477.6,527.7 478.0,527.3 478.3,528.9 478.7,529.4 479.1,528.3 479.5,528.9 479.9,528.2 480.3,530.0 480.6,529.6 481.0,528.5 481.4,530.1 481.8,529.6 482.2,529.8 482.6,529.9 483.0,529.3 483.3,529.5 483.7,530.4 484.1,530.1 484.5,529.6 484.9,531.8 485.3,530.4 485.6,530.3 486.0,530.3 486.4,531.4 486.8,531.7 487.2,531.3 487.6,531.7 488.0,530.2 488.4,531.0 488.8,531.0 489.2,531.4 489.6,531.8 490.0,530.1 490.4,533.1 490.8,531.0 491.2,531.9 491.6,532.3 492.0,532.3 492.4,532.0 492.8,530.2 493.2,531.2 493.6,532.5 493.9,531.4 494.3,531.4 494.7,530.6 495.1,533.1 495.5,532.7 495.9,531.8 496.2,532.4 496.6,532.5 497.0,531.9 497.4,532.5 497.8,533.0 498.1,533.3 498.5,533.8 498.9,533.0 499.3,532.8 499.7,533.5 500.0,532.9 500.4,532.6 500.8,534.4 501.2,533.4 501.6,533.9 501.9,534.4 502.3,533.3 502.7,534.6 503.1,534.6 503.5,534.3 503.9,534.7 504.2,534.1 504.6,533.2 505.0,534.6 505.4,534.2 505.8,535.5 506.1,535.1 506.5,534.6 506.9,535.1 507.3,536.1 507.7,536.0 508.1,535.5 508.4,535.6 508.8,535.1 509.2,535.3 509.6,535.8 510.0,535.4 510.3,535.7 510.7,534.8 511.1,534.5 511.5,534.7 511.9,535.9 512.2,537.5 512.6,537.7 513.0,536.5 513.4,536.4 513.8,538.4 514.2,538.5 514.6,537.5 514.9,539.5 515.3,539.2 515.7,540.3 516.1,539.7 516.5,540.2 516.8,539.9 517.2,539.1 517.6,539.7 518.0,539.5 518.4,540.6 518.8,539.5 519.1,539.2 519.5,540.8 519.9,541.2 520.3,541.5 520.7,541.4 521.0,539.7 521.4,540.3 521.8,540.5 522.2,541.1 522.6,539.8 523.0,541.5 523.4,541.9 523.8,541.2 524.2,542.2 524.6,543.2 525.0,542.5 525.4,543.5 525.8,543.7 526.2,543.4 526.6,543.6 527.0,543.2 527.4,544.6 527.8,543.6 528.2,543.6 528.6,544.8 528.9,543.9 529.3,545.0 529.7,545.7 530.1,545.1 530.5,545.3 530.9,546.1 531.2,546.2 531.6,544.6 532.0,545.0 532.4,547.2 532.8,546.1 533.2,543.8 533.6,544.0 534.0,544.7 534.3,543.6 534.7,544.3 535.1,543.6 535.5,543.6 535.9,542.5 536.3,544.1 536.7,545.4 537.1,543.4 537.5,545.3 537.9,545.2 538.3,545.1 538.7,544.8 539.1,544.1 539.5,544.5 539.9,546.0 540.3,546.4 540.7,546.8 541.1,546.8 541.5,547.0 541.9,546.0 542.3,545.4 542.6,546.7 543.0,547.0 543.4,546.8 543.8,545.5 544.2,546.4 544.5,545.7 544.9,547.2 545.3,546.3 545.7,547.1 546.1,547.6 546.5,547.6 546.8,548.7 547.2,546.7 547.6,545.9 548.0,548.6 548.4,549.0 548.7,549.1 549.1,548.2 549.5,548.4 549.9,548.1 550.3,546.9 550.7,547.6 551.0,548.6 551.4,547.7 551.8,550.0 552.2,547.0 552.6,548.0 552.9,549.4 553.3,547.9 553.7,547.5 554.1,547.4 554.5,548.0 554.8,550.0 555.2,549.1 555.6,549.2 556.0,548.4 556.4,549.6 556.8,549.0 557.1,548.1 557.5,548.6 557.9,549.3 558.3,550.2 558.7,549.1 559.0,549.7 559.4,551.1 559.8,548.6 560.2,548.3 560.6,550.5 560.9,550.2 561.3,549.8 561.7,550.3 562.1,549.8 562.5,550.8 562.8,550.1 563.2,551.3 563.6,549.6 564.0,550.1 564.4,551.1 564.8,550.7 565.1,551.9 565.5,551.4 565.9,551.0 566.3,551.7 566.7,550.9 567.0,549.9 567.4,550.2 567.8,550.5 568.2,550.7 568.6,551.2 569.0,552.0 569.4,551.6 569.7,552.7 570.1,552.2 570.5,550.7 570.9,552.7 571.2,552.4 571.6,551.0 572.0,551.9 572.4,552.9 572.8,552.2 573.1,553.2 573.5,552.7"/>
<polyline points="591.2,555.3 591.5,557.7 591.9,567.4 592.2,563.2 592.6,552.8 592.9,561.5 593.3,559.3 593.7,564.4 594.0,557.2 594.4,567.4 594.7,567.6 595.1,574.0 595.4,566.8 595.8,567.3 596.1,555.3 596.5,572.2 596.9,549.6 597.3,563.8 597.7,557.5 598.1,556.3 598.5,558.6 598.8,558.7 599.1,564.3 599.5,561.8 599.9,569.5 600.2,551.6 600.5,559.4 600.9,553.7 601.2,560.6 601.6,545.7 602.0,554.1 602.3,556.5 602.6,547.7 603.0,559.7 603.4,556.2 603.7,560.7 604.0,560.7 604.4,551.2 604.8,552.1 605.1,555.8 605.5,562.1 605.8,564.3 606.2,558.4 606.5,560.2 606.9,559.9 607.2,561.0 607.5,562.4 607.9,562.2 608.2,572.6 608.5,558.2 608.9,557.8 609.3,560.4 609.7,551.9 610.1,554.3 610.5,556.0 610.9,559.8 611.3,549.5 611.6,563.2 612.0,554.9 612.4,558.0 612.7,562.0 613.0,561.7 613.4,564.2 613.8,560.2 614.1,559.4 614.5,561.2 614.8,554.6 615.2,565.5 615.6,555.2 616.0,552.4 616.3,568.5 616.7,557.1 617.1,552.1 617.5,568.2 617.8,558.0 618.2,565.5 618.5,556.5 618.9,559.8 619.2,552.7 619.6,551.7 620.0,556.2 620.3,559.8 620.6,562.8 621.0,569.4 621.4,552.1 621.7,561.8 622.1,553.7 622.5,556.4 622.8,550.5 623.2,552.7 623.6,557.9 624.0,557.9 624.3,564.7 624.7,561.6 625.1,571.3 625.5,565.3 625.8,564.7 626.2,568.7 626.5,564.3 626.9,560.7 627.2,558.9 627.6,557.4 628.0,562.0 628.4,558.5 628.8,555.3 629.1,556.3 629.5,548.4 629.9,553.1 630.3,543.3 630.7,557.4 631.1,551.9 631.5,553.7 631.9,557.6 632.2,556.8 632.6,557.4 633.0,565.4 633.4,560.3 633.8,554.8 634.1,560.8 634.5,549.2 634.8,564.8 635.1,554.8 635.5,554.3 635.9,563.9 636.3,562.0 636.7,549.9 637.1,551.4 637.5,553.3 637.9,556.4 638.3,548.2 638.7,551.1 639.1,558.7 639.5,556.7 639.8,562.6 640.2,564.4 640.6,557.4 641.0,559.6 641.4,552.3 641.8,561.5 642.2,567.6 642.6,552.6 643.0,562.3 643.4,560.5 643.8,555.4 644.1,556.4 644.5,558.1 644.8,554.6 645.2,558.7 645.5,561.2 645.9,565.6 646.3,566.9 646.7,559.1 647.0,566.1 647.4,555.6 647.8,556.6 648.2,556.7 648.5,553.9 648.9,553.0 649.3,555.3 649.6,552.1 650.0,552.7 650.3,556.4 650.7,563.9 651.0,561.0 651.4,572.6 651.8,566.5 652.1,556.8 652.5,567.2 652.8,578.1 653.1,572.5 653.5,572.2 653.8,572.6 654.2,582.9 654.5,583.3 654.9,580.3 655.2,575.5 655.6,575.5 655.9,569.3 656.3,557.7 656.7,563.6 657.1,559.9 657.5,557.4 657.9,558.8 658.3,554.8 658.6,548.1 659.0,561.6 659.4,560.8 659.7,558.1 660.0,558.3 660.4,561.1 660.8,557.7 661.1,563.2 661.5,562.4 661.9,562.7 662.3,562.0 662.7,563.4 663.1,568.4 663.5,569.5 663.9,568.2 664.3,565.6 664.7,562.5 665.1,564.4 665.4,564.8 665.8,557.0 666.2,561.1 666.6,553.1 667.0,556.6 667.4,558.0 667.8,554.4 668.2,554.0 668.6,557.3 669.0,558.5 669.4,555.8 669.8,560.4 670.2,557.2 670.6,563.2 671.0,560.9 671.3,562.2 671.7,563.9 672.1,564.3 672.5,568.3 672.9,570.0 673.3,566.3 673.7,564.5 674.0,562.0 674.4,562.4 674.8,563.4 675.2,562.8 675.5,562.4 675.9,562.1 676.3,562.6 676.7,558.7 677.1,559.0 677.5,562.8 677.9,562.0 678.2,559.0 678.6,562.2 679.0,558.1 679.4,558.6 679.8,555.3 680.2,560.8 680.6,559.6 680.9,562.0 681.3,561.7 681.7,560.9 682.1,561.4 682.4,563.8 682.8,561.6 683.2,562.0 683.6,562.8 684.0,564.5 684.3,565.0 684.7,567.2 685.1,563.7 685.5,566.6 685.9,563.3 686.3,566.0 686.6,565.4 687.0,568.7 687.4,566.9 687.8,564.3 688.2,565.6 688.6,564.6 689.0,562.7 689.3,562.2 689.7,560.4 690.1,565.7 690.5,561.2 690.9,562.1 691.3,559.0 691.7,560.0 692.0,562.5 692.4,563.4 692.8,566.0 693.2,563.5 693.5,567.2 693.9,569.8 694.3,566.2 694.7,569.2 695.1,565.4 695.4,567.4 695.8,567.1 696.2,569.2 696.6,564.4 697.0,565.6 697.4,566.8 697.7,562.4 698.1,564.1 698.5,562.2 698.9,562.9 699.3,565.8 699.7,566.2 700.0,569.4 700.4,568.2 700.8,568.4 701.2,566.2 701.6,565.2 702.0,565.2 702.3,560.2 702.7,566.4 703.1,561.6 703.5,560.2 703.8,560.5 704.2,562.0 704.6,561.9 705.0,558.4 705.3,559.0 705.7,557.4 706.1,555.1 706.5,558.7 706.9,560.1 707.3,559.2 707.7,565.2 708.1,562.4 708.5,564.2 708.9,560.9 709.3,560.0 709.7,559.0 710.0,560.1 710.4,555.7 710.8,556.2 711.2,557.7 711.6,552.9 712.0,554.4 712.4,555.8 712.8,554.3 713.2,556.3 713.6,554.9 714.0,557.4 714.4,556.8 714.8,554.1 715.1,556.6 715.5,553.1 715.8,551.7 716.1,549.6 716.5,549.1 716.9,551.8 717.3,554.2 717.7,557.7 718.1,556.2 718.5,559.7 718.9,559.3 719.2,555.1 719.5,552.8 719.9,551.8 720.2,548.1 720.6,546.4 721.0,547.1 721.3,551.1 721.7,551.5 722.0,550.4 722.4,553.6 722.7,548.9 723.0,549.7 723.4,546.8 723.7,543.4 724.0,540.8 724.4,536.3 724.7,537.2 725.1,533.4 725.4,530.5 725.8,529.4 726.1,524.9 726.5,522.4 726.9,518.3 727.2,513.4 727.6,514.3 727.9,507.0 728.3,502.8 728.6,500.5 729.0,492.3 729.4,492.5 729.8,489.8 730.2,485.8 730.6,485.0 731.0,479.0 731.4,478.9 731.8,477.2 732.1,470.4 732.5,468.5 732.8,467.4 733.2,464.7 733.5,461.1 733.9,459.5 734.2,457.1 734.5,452.8 734.9,452.0 735.2,448.2 735.5,444.9 735.9,443.3 736.3,445.8 736.6,437.0 737.0,432.3 737.3,420.8 737.6,419.6 737.9,417.8 738.2,415.9 738.5,415.3 738.9,413.5 739.2,411.2 739.5,408.0 739.8,409.7 740.1,413.1 740.5,412.1 740.8,413.1 741.1,410.9 741.5,407.8 741.9,403.5 742.3,401.4 742.6,403.1 742.8,405.6 743.1,409.2 743.4,405.5 743.8,406.7 744.1,403.6 744.4,405.8 744.7,404.0 745.0,404.5 745.4,404.7 745.7,406.4 746.0,404.5 746.3,406.4 746.6,408.1 747.0,412.1 747.3,413.3 747.6,416.9 748.0,420.7 748.3,424.7 748.6,426.4 749.0,431.4 749.4,436.1 749.7,436.0 750.1,442.6 750.5,446.9 750.9,447.5 751.2,452.5 751.5,454.0 751.9,459.4 752.3,460.4 752.6,462.7 753.0,463.0 753.3,464.8 753.7,466.8 754.0,468.2 754.4,469.9 754.8,470.9 755.1,470.6 755.5,472.2 755.8,473.4 756.2,471.2 756.5,474.3 756.9,473.9 757.2,472.4 757.5,471.0 757.9,470.4 758.2,469.3 758.5,469.3 758.9,466.5 759.2,467.6 759.6,464.6 759.9,464.9 760.3,464.2 760.6,460.7 761.0,461.8 761.4,459.6 761.8,453.8 762.1,451.5 762.5,447.6 762.9,444.5 763.2,442.4 763.4,440.2 763.7,439.5 764.1,439.1 764.4,437.7 764.8,438.6 765.2,437.7 765.6,436.7 765.9,434.8 766.3,436.8 766.6,433.5 767.0,427.5 767.3,425.7 767.6,423.5 768.0,420.3 768.3,416.1 768.6,419.2 768.9,424.2 769.2,425.4 769.5,424.5 769.9,427.0 770.2,427.0 770.6,426.8 771.0,426.0 771.4,424.3 771.8,423.8 772.1,423.6 772.4,422.6 772.8,421.2 773.1,421.2 773.4,418.9 773.7,419.8 774.0,422.3 774.4,424.1 774.7,425.9 775.0,428.3 775.4,429.0 775.7,430.8 776.0,431.7 776.4,429.1 776.7,428.2 777.0,425.1 777.4,423.6 777.6,432.9 778.0,439.3 778.3,444.4 778.7,448.2 779.1,452.7 779.5,456.3 779.9,458.5 780.3,460.9 780.6,465.2 780.9,468.4 781.2,471.5 781.5,475.6 781.9,478.4 782.2,481.2 782.5,485.7 782.9,487.3 783.2,490.3 783.6,494.2 783.9,494.2 784.2,494.8 784.6,496.0 784.9,498.0 785.2,498.9 785.6,497.5 786.0,495.7 786.4,494.1 786.8,494.0 787.2,491.2 787.5,492.5 787.9,492.2 788.2,493.3 788.6,493.9 788.9,495.3 789.2,489.6 789.5,488.5 789.9,483.7 790.2,480.9 790.5,477.8 790.9,481.0 791.3,485.5 791.7,485.5 792.0,484.8 792.4,484.2 792.8,484.4 793.2,484.1 793.5,482.9 793.9,484.1 794.3,483.2 794.7,481.6 795.0,482.1 795.4,483.1 795.8,483.4 796.1,483.1 796.5,482.5 796.9,483.6 797.2,484.5 797.6,484.6 798.0,484.6 798.3,484.8 798.7,485.9 799.1,484.3 799.4,483.3 799.8,482.2 800.1,481.5 800.5,479.7 800.8,478.6 801.2,476.6 801.6,477.5 802.0,477.1 802.4,476.5 802.8,475.3 803.2,475.7 803.6,475.6 804.0,475.4 804.3,473.7 804.7,472.8 805.0,471.7 805.4,470.9 805.8,468.8 806.1,467.9 806.5,466.7 806.8,466.0 807.2,464.9 807.6,466.0 808.0,466.5 808.3,467.8 808.7,468.4 809.1,470.5 809.5,470.4 809.8,472.4 810.2,473.1 810.6,473.0 810.9,475.0 811.3,475.9 811.7,476.2 812.0,478.1 812.4,478.9 812.8,480.2 813.1,480.8 813.5,482.2 813.9,483.4 814.2,484.2 814.6,485.1 815.0,486.3 815.4,487.0 815.7,488.6 816.1,488.6 816.5,491.2 816.9,491.6 817.2,492.9 817.6,494.1 818.0,493.7 818.3,495.5 818.7,494.6 819.1,495.7 819.4,496.1 819.8,497.0 820.2,496.9 820.5,496.8 820.9,497.9 821.3,496.6 821.7,497.2 822.1,496.8 822.5,497.4 822.9,496.4 823.3,496.0 823.7,496.9 824.0,497.9 824.4,499.1 824.7,500.6 825.1,500.9 825.4,502.4 825.8,502.9 826.2,503.2 826.5,503.0 826.9,502.2 827.3,502.2 827.6,502.2 828.0,502.2 828.4,502.0 828.7,501.3 829.1,500.7 829.5,500.8 829.8,502.2 830.2,502.8 830.6,502.7 831.0,503.6 831.3,503.2 831.7,503.6 832.1,504.7 832.5,504.0 832.8,505.1 833.2,505.4 833.6,505.6 833.9,506.5 834.3,505.7 834.7,506.2 835.1,505.9 835.4,506.6 835.8,507.1 836.2,507.4 836.6,507.8 836.9,508.3 837.3,508.2 837.7,507.7 838.0,508.6 838.4,508.7 838.8,508.0 839.2,508.2 839.5,509.2 839.9,508.9 840.3,508.9 840.7,508.8 841.0,508.6 841.4,508.3 841.8,508.3 842.1,507.5 842.5,507.0 842.9,506.7 843.3,506.2 843.6,506.1 844.0,504.9 844.4,505.8 844.8,504.0 845.1,503.8 845.5,503.9 845.9,503.0 846.3,503.1 846.6,503.1 847.0,502.1 847.4,502.7 847.8,502.4 848.1,502.5 848.5,502.7 848.9,502.6 849.3,502.9 849.6,502.7 850.0,502.4 850.4,501.9 850.8,502.8 851.1,502.4 851.5,503.2 851.9,504.3 852.3,504.4 852.6,504.0 853.0,504.8 853.4,505.8 853.8,506.2 854.1,506.8 854.5,506.1 854.9,507.2 855.2,508.5 855.6,509.1 856.0,510.4 856.4,511.3 856.7,512.3 857.1,513.1 857.5,514.2 857.9,515.2 858.2,515.9 858.6,516.2 859.0,517.6 859.3,517.6 859.6,518.1 860.0,518.4 860.4,518.0 860.7,519.2 861.1,519.1 861.5,519.2 861.9,520.5 862.2,520.2 862.6,520.8 863.0,521.4 863.3,522.0 863.7,521.0 864.1,520.8 864.4,520.7 864.8,519.5 865.2,518.2 865.5,518.5 865.9,517.9 866.3,517.5 866.7,516.6 867.0,515.7 867.4,515.3 867.8,514.6 868.1,513.9 868.5,513.7 868.9,513.2 869.2,512.0 869.6,512.3 870.0,511.7 870.4,511.1 870.7,509.3 871.1,509.8 871.5,509.5 871.9,509.0 872.3,509.5 872.7,508.6 873.1,509.5 873.5,509.0 873.9,508.6 874.2,509.2 874.6,508.7 875.0,508.5 875.4,507.7 875.8,508.3 876.2,508.5 876.6,508.2 877.0,506.8 877.4,507.5 877.8,507.1 878.2,506.3 878.6,505.4 879.0,504.5 879.4,504.2 879.7,503.9 880.1,503.8 880.5,503.5 880.9,502.5 881.3,501.7 881.7,501.7 882.1,500.9 882.5,501.6 882.8,500.3 883.2,500.7 883.6,500.5 884.0,499.5 884.3,500.0 884.7,499.2 885.1,498.6 885.5,498.2 885.8,498.4 886.2,498.4 886.6,496.9 887.0,497.6 887.3,497.0 887.7,496.5 888.1,496.3 888.5,495.8 888.9,495.4 889.3,495.3 889.7,494.1 890.1,494.8 890.5,493.9 890.8,492.8 891.2,491.8 891.6,492.1 892.0,491.5 892.4,491.5 892.8,491.0 893.2,491.1 893.6,490.1 894.0,490.4 894.3,489.8 894.7,489.7 895.1,490.4 895.5,489.6 895.9,489.5 896.3,489.3 896.6,489.5 897.0,489.5 897.4,489.1 897.8,488.6 898.2,489.1 898.6,488.5 898.9,488.6 899.3,488.7 899.7,488.6 900.1,487.8 900.5,489.6 900.9,489.5 901.2,490.2 901.6,490.5 902.0,489.5 902.4,489.8 902.8,490.4 903.1,490.9 903.5,490.5 903.9,490.8 904.3,491.6 904.7,491.4 905.1,492.4 905.4,493.3 905.8,493.3 906.2,494.2 906.6,494.4 907.0,494.3 907.4,495.3 907.8,496.0 908.1,496.5 908.5,497.1 908.9,497.8 909.3,498.2 909.7,498.5 910.0,498.6 910.4,499.1 910.8,499.4 911.2,499.7 911.6,500.9 912.0,500.0 912.4,501.2 912.7,500.8 913.1,501.6 913.5,502.6 913.9,502.8 914.2,504.1 914.6,503.8 915.0,504.7 915.4,505.2 915.7,506.1 916.1,506.6 916.5,507.2 916.8,508.0 917.2,509.1 917.6,509.5 918.0,510.3 918.4,511.1 918.7,511.7 919.1,512.3 919.5,513.3 919.9,514.6 920.3,514.6 920.6,516.5 921.0,516.9 921.4,517.6 921.8,518.6 922.2,519.8 922.5,520.4 922.9,521.1 923.3,522.5 923.6,523.5 924.0,522.7 924.4,524.4 924.8,524.4 925.1,524.9 925.5,526.0 925.9,527.1 926.3,527.0 926.6,527.4 927.0,528.6 927.4,528.6 927.8,528.9 928.2,530.1 928.6,530.0 928.9,529.9 929.3,530.2 929.7,530.9 930.1,531.6 930.5,532.3 930.9,532.7 931.2,532.9 931.6,532.8 932.0,534.1 932.4,534.0 932.8,533.8 933.2,534.0 933.5,534.8 933.9,535.1 934.3,535.6 934.7,535.0 935.1,536.5 935.5,535.3 935.8,536.3 936.2,537.1 936.6,537.2 937.0,536.7 937.4,537.5 937.8,538.1 938.1,538.1 938.5,537.7 938.9,539.0 939.3,537.9 939.7,538.8 940.1,538.5 940.5,538.9 940.8,539.2 941.2,539.7 941.6,539.1 942.0,539.9 942.4,540.5 942.8,540.2 943.2,540.6 943.6,540.7 944.0,540.4 944.3,540.8 944.7,541.1 945.1,541.5 945.5,542.3 945.9,542.3 946.3,541.6 946.7,541.8 947.0,541.7 947.4,541.4 947.8,543.0 948.2,542.9 948.6,542.1 949.0,542.9 949.4,543.8 949.8,543.0 950.2,543.0 950.6,542.9 951.0,542.5 951.4,542.3 951.8,542.4 952.2,542.8 952.6,542.6 953.0,543.0 953.4,543.4 953.8,542.9 954.2,543.0 954.6,542.5 955.0,542.1 955.4,543.5 955.8,542.9 956.2,543.0 956.6,542.4 957.0,541.8 957.4,543.0 957.8,541.6 958.2,542.3 958.6,542.1 958.9,542.3 959.3,542.4 959.7,542.3 960.1,541.0 960.5,542.2 960.9,540.9 961.2,541.9 961.6,541.3 962.0,540.9 962.4,541.1 962.8,540.6 963.2,541.1 963.5,541.4 963.9,541.2 964.3,540.8 964.7,541.1 965.1,540.8 965.5,541.4 965.9,540.6 966.2,540.0 966.6,540.1 967.0,539.8 967.4,539.9 967.8,539.9 968.1,540.1 968.5,540.1 968.9,539.7 969.3,539.8 969.7,539.3 970.1,539.3 970.5,538.5 970.8,539.0 971.2,539.1 971.6,540.1 972.0,538.6 972.4,539.1 972.8,538.8 973.1,538.2 973.5,538.9 973.9,538.7 974.3,538.1 974.7,537.7 975.1,538.5 975.4,537.9 975.8,538.6 976.2,538.2 976.6,538.4 977.0,537.9 977.4,538.5 977.8,538.0 978.1,538.1 978.5,537.4 978.9,536.8 979.3,536.5 979.7,536.7 980.1,536.9 980.5,536.3 980.9,537.4 981.2,536.3 981.6,536.3 982.0,536.0 982.4,535.3 982.8,536.1 983.2,535.8 983.6,535.7 984.0,534.8 984.3,535.1 984.7,534.9 985.1,535.2 985.5,534.0 985.9,534.6 986.3,534.5 986.7,533.5 987.1,533.0 987.5,533.5 987.9,532.7 988.2,532.8 988.6,532.3 989.0,532.1 989.4,531.3 989.8,530.1 990.2,530.9 990.6,530.1 991.0,530.3 991.4,529.3 991.8,529.6 992.2,528.3 992.6,528.2 993.0,527.8 993.4,526.8 993.8,526.5 994.1,525.8 994.5,524.9 994.9,525.3 995.3,523.8 995.7,523.0 996.1,522.9 996.5,522.7 996.9,522.4 997.3,522.0 997.6,521.7 998.0,520.8 998.4,521.7 998.8,521.9 999.2,520.7 999.6,520.0 1000.0,520.8 1000.3,520.2 1000.7,519.1 1001.1,519.5 1001.4,517.1 1001.8,515.2 1002.1,514.4 1002.4,511.9 1002.8,515.1 1003.1,518.9 1003.5,523.3 1003.9,522.0 1004.2,522.6 1004.6,521.8 1005.0,522.3 1005.4,521.9 1005.7,521.3 1006.1,521.9 1006.5,521.5 1006.9,521.9 1007.2,520.7 1007.6,520.8 1008.0,520.6 1008.4,521.7 1008.8,521.1 1009.2,521.6 1009.6,522.5 1010.0,522.3 1010.4,522.5 1010.7,522.7 1011.1,522.9 1011.5,523.3 1011.9,523.1 1012.3,522.5 1012.7,524.3 1013.1,523.4 1013.5,524.5 1013.8,523.5 1014.2,524.2 1014.6,523.4 1015.0,522.8 1015.3,522.8 1015.7,521.4 1016.1,521.9 1016.4,521.4 1016.8,521.3 1017.2,520.6 1017.5,520.8 1017.9,522.4 1018.3,522.4 1018.6,522.4 1019.0,522.8 1019.4,522.8 1019.8,523.1 1020.1,524.0 1020.5,523.8 1020.9,524.3 1021.3,523.6 1021.7,523.0 1022.1,523.6 1022.5,523.9 1022.9,523.4 1023.2,523.8 1023.6,523.7 1024.0,524.5 1024.4,524.5 1024.8,524.6 1025.2,523.7 1025.6,524.3 1026.0,524.8 1026.4,524.3 1026.8,524.2 1027.2,523.9 1027.6,524.8 1027.9,524.5 1028.3,525.0 1028.7,524.5 1029.1,525.8 1029.5,524.7 1029.9,524.1 1030.3,525.0 1030.7,525.2 1031.1,525.7 1031.5,524.8 1031.8,524.8 1032.2,525.0 1032.6,525.0 1033.0,524.1 1033.4,525.8 1033.8,526.0 1034.2,524.7 1034.6,524.5 1035.0,524.9 1035.4,524.4 1035.8,525.2 1036.2,524.3 1036.6,524.9 1037.0,523.7 1037.4,523.5 1037.8,523.3 1038.2,523.3 1038.6,524.3 1039.0,524.4 1039.4,524.1 1039.8,524.2 1040.2,522.9 1040.6,525.0 1041.0,523.7 1041.4,525.3 1041.8,526.0 1042.1,524.8 1042.5,525.2 1042.9,525.3 1043.3,524.3 1043.7,524.5 1044.1,524.9 1044.5,525.5 1044.9,526.3 1045.2,526.2 1045.6,527.2 1045.9,526.5 1046.3,526.3"/>
<polyline points="118.0,755.7 118.4,755.5 118.8,756.0 119.2,756.4 119.6,756.8 120.0,756.3 120.4,756.0 120.8,755.9 121.1,756.9 121.5,757.7 121.9,756.7 122.3,755.6 122.7,755.8 123.1,758.1 123.5,756.9 123.9,755.2 124.3,756.7 124.7,755.6 125.1,756.1 125.5,756.2 125.9,755.9 126.3,757.3 126.7,756.6 127.0,755.9 127.4,757.1 127.8,757.7 128.2,754.4 128.6,756.2 129.0,755.2 129.4,756.3 129.8,754.6 130.2,756.5 130.6,756.3 131.0,755.8 131.4,754.5 131.8,755.4 132.2,754.2 132.6,753.6 132.9,756.3 133.3,753.8 133.7,757.8 134.1,757.0 134.5,751.7 134.9,756.0 135.3,753.2 135.7,755.4 136.1,755.5 136.5,751.5 136.9,755.2 137.3,755.3 137.7,758.1 138.1,753.6 138.5,758.0 138.8,754.0 139.2,755.8 139.6,754.8 140.0,760.4 140.4,758.4 140.8,762.7 141.2,758.9 141.6,759.5 142.0,759.1 142.3,755.1 142.7,755.9 143.1,758.9 143.4,754.2 143.8,755.2 144.1,754.2 144.5,755.3 144.9,753.5 145.2,754.6 145.6,756.2 145.9,756.4 146.3,754.7 146.6,759.6 147.0,754.9 147.4,755.1 147.8,754.9 148.1,760.4 148.5,757.2 148.9,755.8 149.3,755.4 149.6,759.2 150.0,755.6 150.4,755.1 150.8,759.1 151.1,754.1 151.5,755.6 151.9,755.8 152.3,754.1 152.6,754.5 153.0,757.3 153.4,753.7 153.8,752.9 154.2,752.5 154.6,757.5 155.0,758.1 155.3,758.8 155.7,756.2 156.1,755.3 156.4,753.9 156.8,753.5 157.1,754.4 157.5,752.2 157.8,752.5 158.2,758.1 158.5,755.7 158.9,751.8 159.3,761.0 159.6,758.7 160.0,756.7 160.4,761.3 160.7,759.3 161.1,757.8 161.5,757.9 161.8,757.1 162.2,759.8 162.5,761.6 162.9,757.5 163.2,758.6 163.6,761.5 163.9,753.1 164.3,756.1 164.7,754.0 165.0,751.4 165.4,751.4 165.8,753.9 166.2,755.0 166.6,752.6 166.9,754.0 167.3,755.6 167.7,754.6 168.1,755.9 168.5,756.1 168.8,757.2 169.2,761.7 169.6,759.8 170.0,759.7 170.3,762.2 170.7,759.3 171.1,761.9 171.5,763.9 171.9,762.8 172.2,764.3 172.6,759.8 173.0,755.4 173.4,764.6 173.7,763.2 174.1,758.6 174.4,765.3 174.8,762.7 175.1,758.9 175.5,763.1 175.9,762.1 176.2,766.6 176.6,759.9 176.9,760.6 177.3,759.8 177.6,758.8 178.0,756.7 178.4,759.7 178.8,762.0 179.1,761.0 179.5,757.3 179.9,756.9 180.3,760.2 180.6,758.3 181.0,758.7 181.4,756.2 181.8,764.8 182.1,761.7 182.5,756.5 182.9,760.7 183.3,761.3 183.6,751.7 184.0,755.6 184.4,756.0 184.7,758.6 185.1,756.6 185.5,756.3 185.8,756.7 186.2,761.5 186.6,762.3 186.9,755.5 187.3,754.5 187.6,761.8 188.0,752.8 188.3,753.1 188.7,753.9 189.0,754.2 189.3,755.4 189.7,753.6 190.0,750.3 190.3,753.6 190.6,754.3 191.0,759.7 191.3,756.3 191.7,754.3 192.0,756.4 192.4,762.6 192.8,757.4 193.2,753.3 193.5,757.1 193.9,758.4 194.3,761.3 194.7,755.6 195.1,759.7 195.5,759.8 195.8,755.8 196.2,756.9 196.6,761.7 197.0,761.4 197.3,759.9 197.7,759.2 198.1,762.0 198.4,759.4 198.8,760.3 199.1,759.0 199.5,760.6 199.9,759.7 200.2,765.1 200.6,758.1 201.0,761.2 201.4,762.0 201.7,758.9 202.1,763.0 202.5,755.1 202.9,761.6 203.2,764.2 203.6,756.8 203.9,758.6 204.3,763.1 204.7,758.5 205.0,755.2 205.4,758.4 205.7,759.4 206.1,764.0 206.5,764.7 206.8,764.2 207.2,764.6 207.6,764.9 207.9,767.2 208.3,763.4 208.6,762.9 209.0,759.6 209.4,757.8 209.8,760.4 210.1,765.0 210.5,764.7 210.9,763.3 211.2,760.3 211.6,763.7 211.9,761.4 212.3,760.3 212.7,759.2 213.0,759.7 213.3,760.3 213.7,762.5 214.0,763.0 214.4,764.6 214.7,763.7 215.1,761.3 215.4,762.6 215.8,763.8 216.1,761.5 216.5,763.6 216.9,764.9 217.2,759.7 217.6,757.0 217.9,764.5 218.3,761.2 218.7,761.5 219.0,754.7 219.4,761.1 219.8,757.0 220.1,753.2 220.5,751.1 220.9,751.4 221.2,749.7 221.6,748.5 222.0,745.5 222.3,750.4 222.7,746.3 223.0,747.7 223.3,748.9 223.7,744.5 224.0,752.2 224.4,749.9 224.8,749.6 225.2,750.0 225.6,747.3 226.0,750.9 226.4,747.2 226.8,746.4 227.2,746.1 227.6,748.0 227.9,748.9 228.3,746.0 228.7,743.9 229.0,748.7 229.4,744.4 229.8,748.4 230.1,745.8 230.5,744.4 230.9,744.2 231.2,746.0 231.6,746.5 232.0,744.3 232.3,746.0 232.7,747.7 233.1,743.6 233.4,741.8 233.8,741.8 234.2,741.0 234.5,742.0 234.9,741.6 235.3,740.5 235.6,743.0 236.0,738.7 236.4,739.3 236.8,743.2 237.2,741.0 237.6,739.5 238.0,738.6 238.4,738.9 238.7,736.0 239.1,734.1 239.4,731.2 239.8,731.3 240.1,729.2 240.5,727.9 240.8,729.3 241.2,731.5 241.5,732.7 241.9,733.3 242.3,730.6 242.6,731.2 243.0,732.5 243.4,730.2 243.8,730.6 244.1,729.9 244.5,729.5 244.9,728.3 245.2,726.0 245.6,726.3 246.0,725.6 246.3,724.1 246.7,724.3 247.1,723.1 247.4,722.2 247.8,723.0 248.2,722.2 248.6,721.2 249.0,720.5 249.4,720.3 249.8,719.8 250.2,719.3 250.6,719.0 250.9,718.2 251.3,718.2 251.7,717.7 252.1,717.1 252.5,715.9 252.9,715.4 253.3,715.5 253.7,714.6 254.1,714.1 254.5,712.2 254.9,711.6 255.2,712.4 255.6,711.8 256.0,711.8 256.4,710.8 256.8,709.9 257.2,709.2 257.6,707.9 258.0,708.4 258.3,707.1 258.7,707.0 259.1,706.3 259.5,705.7 259.9,705.3 260.3,704.1 260.7,703.6 261.1,702.8 261.4,702.4 261.8,702.5 262.2,701.2 262.6,701.1 263.0,700.4 263.4,699.9 263.8,699.3 264.2,698.2 264.5,698.1 264.9,697.9 265.3,696.7 265.7,696.3 266.1,695.6 266.5,695.3 266.9,694.4 267.3,694.6 267.7,693.5 268.1,692.6 268.4,693.0 268.8,692.2 269.2,691.6 269.6,691.0 270.0,690.2 270.3,689.6 270.6,689.2 271.0,688.7 271.3,688.0 271.6,687.2 272.0,686.3 272.4,685.6 272.8,685.3 273.1,684.7 273.5,683.5 273.9,682.8 274.3,682.6 274.7,681.7 275.1,681.0 275.4,679.7 275.8,679.3 276.2,678.5 276.6,678.1 277.0,676.9 277.4,677.2 277.8,676.4 278.1,675.8 278.5,674.8 278.9,674.5 279.3,674.4 279.7,672.9 280.1,672.9 280.4,672.4 280.8,671.4 281.2,671.3 281.6,670.4 282.0,670.2 282.4,669.4 282.8,668.7 283.2,668.6 283.5,667.6 283.9,667.1 284.3,665.7 284.7,665.2 285.1,665.0 285.5,664.4 285.9,663.5 286.3,663.1 286.6,661.9 287.0,661.7 287.4,660.6 287.8,660.4 288.2,659.5 288.6,659.1 289.0,658.8 289.4,658.9 289.7,657.6 290.1,657.3 290.5,657.4 290.9,656.4 291.3,656.7 291.7,655.8 292.0,655.3 292.4,654.9 292.8,654.9 293.2,654.1 293.6,653.6 294.0,653.0 294.4,651.9 294.7,651.6 295.1,651.8 295.5,651.1 295.9,650.5 296.3,650.0 296.7,649.2 297.0,648.9 297.4,648.0 297.8,647.9 298.2,647.1 298.6,646.7 299.0,646.4 299.4,645.7 299.7,645.4 300.1,644.9 300.5,644.3 300.9,644.1 301.3,642.7 301.7,642.2 302.0,642.3 302.4,641.9 302.8,641.7 303.2,640.8 303.6,640.2 304.0,639.0 304.4,638.9 304.7,638.3 305.1,637.1 305.5,636.5 305.9,636.1 306.3,635.6 306.7,634.1 307.0,634.2 307.4,633.7 307.8,632.9 308.2,632.4 308.6,631.8 308.9,630.8 309.3,630.6 309.7,629.8 310.1,629.0 310.4,628.8 310.8,628.6 311.2,627.0 311.6,626.4 311.9,625.8 312.3,626.3 312.7,624.8 313.1,624.0 313.4,623.0 313.8,622.1 314.2,620.9 314.6,620.8 315.0,620.0 315.4,618.4 315.7,617.9 316.1,617.2 316.5,616.6 316.9,615.8 317.2,615.3 317.6,614.5 318.0,613.6 318.4,612.8 318.7,611.2 319.1,610.6 319.5,610.3 319.9,609.2 320.2,608.2 320.6,606.8 321.0,606.5 321.4,607.0 321.7,606.6 322.1,606.1 322.5,605.7 322.9,605.0 323.2,605.3 323.6,605.2 324.0,605.1 324.4,604.7 324.7,604.6 325.1,604.4 325.4,605.2 325.8,605.4 326.1,604.7 326.4,605.0 326.8,605.0 327.2,605.4 327.6,605.5 327.9,606.7 328.3,607.6 328.7,607.6 329.1,608.4 329.4,608.5 329.8,610.3 330.2,610.6 330.6,610.9 331.0,611.3 331.4,611.6 331.7,612.3 332.1,612.7 332.5,613.2 332.9,613.8 333.3,614.3 333.7,615.3 334.1,614.8 334.5,615.8 334.8,616.0 335.2,616.4 335.6,616.5 336.0,617.9 336.4,617.9 336.8,618.3 337.2,619.1 337.6,619.0 337.9,619.7 338.3,620.1 338.7,620.8 339.1,621.2 339.5,621.0 339.9,622.0 340.2,622.0 340.6,622.5 341.0,622.7 341.4,623.5 341.8,623.1 342.2,623.8 342.6,624.3 342.9,624.1 343.3,625.1 343.7,624.5 344.1,625.0 344.5,625.1 344.9,625.3 345.2,625.4 345.6,625.8 346.0,626.2 346.4,626.2 346.8,627.3 347.2,628.0 347.6,627.5 347.9,628.8 348.3,629.1 348.7,629.7 349.1,630.9 349.5,631.0 349.9,631.2 350.2,631.7 350.6,631.4 351.0,632.9 351.4,633.0 351.8,633.8 352.2,634.4 352.5,635.2 352.9,636.2 353.3,636.4 353.7,637.0 354.0,637.1 354.4,637.9 354.8,638.6 355.2,638.4 355.5,640.1 355.9,639.8 356.3,640.2 356.7,641.9 357.1,642.8 357.4,642.7 357.8,643.4 358.2,645.2 358.6,645.2 359.0,645.3 359.4,646.5 359.7,648.1 360.1,648.5 360.5,649.3 360.9,650.0 361.2,650.4 361.6,650.7 362.0,650.9 362.4,652.2 362.7,652.2 363.1,653.2 363.5,654.4 363.9,654.6 364.2,655.0 364.6,655.6 365.0,656.4 365.4,656.9 365.8,656.7 366.1,657.7 366.5,658.7 366.9,658.9 367.3,658.9 367.7,659.4 368.1,659.5 368.4,660.4 368.8,661.7 369.2,661.7 369.6,661.9 370.0,662.2 370.4,662.6 370.8,662.8 371.1,663.0 371.5,663.1 371.9,663.8 372.3,664.3 372.7,663.8 373.1,664.0 373.4,664.8 373.8,664.2 374.2,664.7 374.6,665.0 375.0,665.1 375.4,664.9 375.8,664.6 376.1,664.9 376.5,664.3 376.9,664.1 377.3,663.9 377.7,664.8 378.1,663.9 378.4,664.6 378.8,664.6 379.2,664.5 379.6,664.1 380.0,664.1 380.4,664.5 380.8,664.4 381.2,664.3 381.5,665.3 381.9,664.7 382.3,665.7 382.7,665.4 383.1,665.2 383.5,665.6 383.9,666.0 384.3,665.3 384.6,665.6 385.0,665.6 385.4,666.2 385.8,666.4 386.2,666.4 386.6,666.6 387.0,667.1 387.4,668.1 387.8,668.6 388.2,668.7 388.6,668.6 389.0,669.7 389.4,670.0 389.7,670.5 390.1,671.4 390.5,671.5 390.9,671.4 391.3,671.8 391.7,673.1 392.1,673.1 392.5,673.8 392.9,673.9 393.3,674.1 393.7,675.2 394.0,676.2 394.4,676.3 394.8,676.4 395.2,677.2 395.5,677.7 395.9,678.5 396.3,679.4 396.7,680.3 397.0,680.3 397.4,680.6 397.8,681.4 398.2,681.8 398.6,682.1 398.9,682.7 399.3,683.2 399.7,683.2 400.1,684.3 400.5,684.4 400.9,684.6 401.2,685.6 401.6,685.7 402.0,687.0 402.4,686.6 402.7,686.5 403.1,686.3 403.5,686.5 403.8,687.1 404.2,686.6 404.6,687.2 404.9,686.3 405.3,687.2 405.7,686.8 406.1,686.0 406.4,685.3 406.8,685.1 407.2,683.8 407.6,683.2 408.0,683.0 408.4,682.8 408.7,681.9 409.1,681.1 409.5,680.6 409.9,680.0 410.2,678.7 410.6,677.6 411.0,677.4 411.4,676.6 411.7,676.2 412.1,675.3 412.5,674.8 412.9,674.5 413.2,673.7 413.6,673.0 414.0,673.8 414.4,673.2 414.7,673.4 415.1,674.1 415.5,673.4 415.9,673.4 416.3,674.6 416.7,674.4 417.0,674.6 417.4,674.8 417.8,675.1 418.2,674.4 418.5,674.4 418.9,673.9 419.3,674.2 419.7,674.0 420.0,673.6 420.4,673.9 420.8,674.3 421.2,672.9 421.5,673.5 421.9,673.4 422.3,673.7 422.6,673.3 423.0,674.3 423.4,674.4 423.7,674.4 424.1,674.6 424.5,675.1 424.8,675.6 425.2,675.9 425.6,677.0 426.0,676.7 426.3,677.7 426.7,678.0 427.1,679.1 427.5,679.5 427.8,679.9 428.2,680.2 428.6,681.1 429.0,681.9 429.4,682.8 429.8,683.0 430.1,682.7 430.5,683.4 430.9,684.0 431.3,684.4 431.7,684.9 432.1,685.6 432.5,685.9 432.9,686.0 433.2,686.0 433.6,687.0 434.0,687.0 434.4,688.0 434.8,688.1 435.1,687.4 435.5,687.8 435.9,687.7 436.2,688.5 436.6,687.9 437.0,687.0 437.4,687.8 437.7,687.8 438.1,687.5 438.5,687.4 438.8,687.7 439.2,687.7 439.6,688.2 439.9,688.2 440.3,689.1 440.7,689.1 441.0,689.7 441.4,690.6 441.8,691.0 442.1,691.8 442.5,693.4 442.9,693.3 443.2,693.4 443.6,693.6 444.0,694.7 444.3,695.2 444.7,695.5 445.1,697.2 445.4,697.4 445.8,698.4 446.2,699.6 446.6,699.2 447.0,699.6 447.3,700.1 447.7,700.4 448.1,700.6 448.5,701.3 448.9,702.2 449.3,702.1 449.7,702.1 450.1,702.6 450.4,703.2 450.8,704.0 451.2,704.6 451.6,705.0 452.0,705.6 452.4,705.4 452.8,706.1 453.2,706.3 453.6,706.7 454.0,706.1 454.4,707.6 454.8,706.9 455.2,707.3 455.6,708.4 455.9,708.2 456.3,709.4 456.7,709.1 457.1,709.0 457.5,709.7 457.9,709.8 458.3,710.9 458.7,711.2 459.1,711.2 459.5,711.1 459.9,711.6 460.3,712.2 460.7,711.7 461.1,712.0 461.5,712.8 461.9,713.0 462.3,712.8 462.7,713.0 463.1,712.6 463.5,714.0 463.9,713.7 464.2,713.5 464.6,713.8 465.0,714.1 465.4,715.3 465.8,715.1 466.2,714.6 466.6,716.0 467.0,716.0 467.4,715.4 467.8,715.1 468.2,716.6 468.6,716.2 469.0,716.5 469.4,716.6 469.8,717.5 470.2,717.8 470.6,717.7 471.0,717.5 471.4,717.9 471.8,718.2 472.2,717.6 472.5,718.9 472.9,718.5 473.3,718.9 473.7,719.1 474.1,719.5 474.5,719.8 474.9,720.4 475.3,719.7 475.7,719.7 476.1,720.3 476.5,720.2 476.9,720.9 477.3,720.5 477.7,721.0 478.1,721.5 478.5,721.8 478.9,721.7 479.3,722.3 479.7,722.5 480.1,721.5 480.5,722.5 480.8,722.6 481.2,722.6 481.6,722.7 482.0,723.2 482.4,723.5 482.8,723.6 483.2,724.3 483.6,724.3 484.0,723.9 484.4,724.0 484.8,724.8 485.2,724.4 485.6,724.8 486.0,725.1 486.4,725.4 486.8,725.4 487.2,725.9 487.6,725.3 488.0,725.8 488.4,725.5 488.8,725.9 489.1,726.0 489.5,725.8 489.9,725.3 490.3,726.8 490.7,726.7 491.1,726.7 491.5,726.5 491.9,726.8 492.3,727.2 492.7,727.2 493.1,727.8 493.5,727.4 493.9,727.2 494.3,727.8 494.7,727.4 495.1,727.8 495.5,727.1 495.9,727.8 496.3,728.2 496.6,727.8 497.0,728.1 497.4,728.4 497.8,728.3 498.2,729.1 498.6,728.4 499.0,728.5 499.4,728.6 499.8,727.9 500.2,728.3 500.6,729.2 501.0,729.1 501.4,729.9 501.7,729.5 502.1,729.6 502.5,730.3 502.9,730.1 503.3,730.8 503.7,729.9 504.1,730.7 504.5,731.0 504.8,731.1 505.2,731.5 505.6,731.6 506.0,731.4 506.4,731.3 506.8,732.1 507.2,731.9 507.6,732.5 508.0,732.8 508.3,732.6 508.7,732.3 509.1,732.8 509.5,733.4 509.9,733.2 510.3,733.9 510.7,733.7 511.1,733.9 511.4,733.8 511.8,734.2 512.2,734.9 512.6,734.5 513.0,734.7 513.4,734.7 513.8,735.5 514.2,734.8 514.6,735.3 515.0,736.2 515.4,736.6 515.8,736.1 516.2,736.8 516.5,735.8 516.9,737.1 517.3,737.1 517.7,736.7 518.1,736.6 518.5,737.3 518.9,737.8 519.3,738.1 519.7,738.2 520.1,738.6 520.5,738.6 520.9,737.9 521.3,738.4 521.6,738.5 522.0,739.3 522.4,738.7 522.8,739.5 523.2,739.2 523.6,740.2 524.0,739.4 524.4,739.5 524.7,739.6 525.1,739.8 525.5,740.9 525.9,739.8 526.3,739.7 526.7,740.2 527.1,740.7 527.5,740.1 527.8,741.0 528.2,741.1 528.6,740.8 529.0,740.9 529.4,740.8 529.8,741.2 530.1,741.1 530.5,742.1 530.9,742.4 531.3,741.7 531.7,741.9 532.1,741.0 532.5,741.7 532.9,742.2 533.3,742.2 533.7,742.2 534.1,742.6 534.5,742.3 534.8,742.2 535.2,743.2 535.6,741.5 536.0,742.0 536.4,742.2 536.8,742.3 537.2,742.3 537.6,742.6 538.0,742.5 538.4,742.9 538.8,743.3 539.2,743.2 539.6,743.3 539.9,742.9 540.3,742.9 540.7,743.5 541.1,744.2 541.5,744.1 541.9,744.6 542.3,744.6 542.7,744.8 543.0,743.9 543.4,745.1 543.8,745.0 544.2,745.8 544.6,745.1 545.0,745.0 545.4,744.7 545.8,744.9 546.2,743.9 546.5,744.7 546.9,744.8 547.3,745.4 547.7,744.4 548.1,744.9 548.5,745.8 548.9,744.5 549.3,745.3 549.6,744.5 550.0,744.8 550.4,745.1 550.8,745.3 551.2,744.5 551.6,744.4 552.0,746.0 552.4,745.4 552.8,745.9 553.2,746.1 553.6,746.1 554.0,745.7 554.4,745.9 554.7,745.2 555.1,746.4 555.5,746.1 555.9,746.6 556.3,747.8 556.7,747.3 557.1,747.0 557.5,746.3 557.9,747.8 558.3,748.3 558.7,746.9 559.1,747.7 559.4,747.1 559.8,747.4 560.2,747.3 560.6,746.6 561.0,747.3 561.4,746.6 561.7,748.6 562.1,748.4 562.5,747.8 562.9,748.0 563.3,747.9 563.7,748.1 564.0,748.2 564.4,748.0 564.8,748.1 565.2,747.4 565.5,747.8 565.9,748.1 566.3,748.7 566.7,748.4 567.0,750.0 567.4,748.7 567.8,748.7 568.2,749.4 568.6,749.9 569.0,750.6 569.4,750.2 569.8,749.3 570.2,749.8 570.6,750.8 570.9,750.4 571.3,751.0 571.7,750.5 572.1,751.8 572.5,751.9 572.9,751.9 573.3,751.4 573.7,750.3"/>
<polyline points="591.4,755.9 591.8,761.0 592.1,756.4 592.5,756.8 592.8,755.1 593.1,755.7 593.4,754.2 593.8,755.7 594.1,753.2 594.4,753.6 594.7,753.7 595.1,752.1 595.4,753.4 595.7,754.9 596.0,752.1 596.3,754.8 596.6,761.9 597.0,769.9 597.3,761.8 597.7,760.3 598.0,751.3 598.2,748.5 598.5,747.4 598.8,752.4 599.0,753.2 599.2,753.5 599.5,758.2 599.9,755.8 600.3,759.8 600.7,758.2 601.1,758.0 601.5,757.9 601.9,760.8 602.3,760.9 602.6,764.5 603.0,764.0 603.4,766.2 603.7,764.5 603.9,764.9 604.2,763.0 604.6,765.0 604.9,770.8 605.3,771.3 605.6,769.3 606.0,767.5 606.3,766.6 606.6,762.5 607.0,762.6 607.3,761.2 607.7,759.0 608.1,760.5 608.5,760.0 608.8,758.0 609.2,757.5 609.6,755.9 610.0,755.8 610.4,756.8 610.8,757.8 611.2,756.6 611.6,757.3 612.0,757.9 612.4,756.9 612.8,757.7 613.1,759.0 613.5,756.7 613.9,759.0 614.3,756.8 614.6,759.5 615.0,759.6 615.4,758.5 615.8,757.6 616.2,758.2 616.6,757.5 617.0,757.6 617.4,757.1 617.7,759.1 618.1,758.1 618.4,759.4 618.8,759.8 619.1,762.0 619.5,759.8 619.9,760.2 620.3,761.2 620.7,758.7 621.1,757.5 621.5,758.4 621.9,758.2 622.2,759.7 622.6,758.3 623.0,759.8 623.4,760.6 623.8,761.4 624.1,759.6 624.5,762.5 624.9,760.6 625.2,760.3 625.6,761.3 626.0,762.8 626.4,762.1 626.8,762.7 627.2,762.5 627.6,762.2 628.0,761.4 628.3,763.3 628.7,759.1 629.1,759.3 629.5,760.4 629.9,759.4 630.3,757.9 630.6,758.9 631.0,758.5 631.3,756.4 631.7,759.1 632.0,759.0 632.4,758.4 632.7,756.2 633.1,756.3 633.5,756.4 633.8,759.0 634.2,759.4 634.6,761.8 635.0,762.3 635.3,765.0 635.7,766.2 636.1,765.0 636.5,759.4 636.8,757.2 637.2,758.6 637.6,755.3 638.0,757.6 638.3,758.2 638.7,758.7 639.1,760.9 639.5,761.0 639.8,761.6 640.2,759.3 640.6,766.7 641.0,764.7 641.3,768.4 641.7,768.3 642.1,771.9 642.5,767.4 642.9,765.4 643.3,763.2 643.7,759.2 644.1,757.4 644.5,760.2 644.9,762.1 645.2,762.0 645.6,771.0 646.0,765.6 646.4,765.1 646.8,768.7 647.2,760.2 647.6,761.2 648.0,759.0 648.4,758.6 648.8,757.4 649.1,758.7 649.5,763.6 649.9,766.1 650.2,758.5 650.6,761.7 650.9,757.9 651.3,759.4 651.6,755.9 652.0,755.8 652.3,758.7 652.7,761.7 653.1,766.4 653.4,770.2 653.8,768.5 654.2,768.6 654.5,770.1 654.9,769.5 655.2,771.1 655.6,771.3 655.9,771.3 656.3,770.8 656.7,770.7 657.1,770.3 657.5,768.0 657.9,768.1 658.3,766.2 658.7,765.5 659.0,767.8 659.4,765.3 659.8,767.9 660.2,769.0 660.5,767.3 660.9,767.8 661.3,768.7 661.7,769.2 662.0,768.1 662.4,767.9 662.8,768.4 663.2,767.7 663.6,766.3 663.9,767.2 664.3,767.3 664.7,765.8 665.1,767.8 665.5,766.9 665.9,768.5 666.3,766.6 666.7,767.4 667.0,767.1 667.4,769.8 667.8,770.0 668.2,770.4 668.6,770.6 669.0,770.0 669.4,769.9 669.8,767.4 670.2,769.2 670.5,768.4 670.9,768.5 671.3,767.6 671.7,769.8 672.1,768.7 672.5,767.2 672.9,769.3 673.3,769.1 673.7,768.6 674.1,769.5 674.5,769.4 674.8,768.4 675.2,769.4 675.6,771.5 676.0,771.7 676.4,771.9 676.8,770.4 677.1,770.6 677.5,770.9 677.8,771.1 678.2,769.5 678.5,769.1 678.9,770.6 679.2,769.4 679.6,768.8 680.0,768.9 680.4,769.3 680.7,771.5 681.1,771.4 681.5,770.6 681.9,770.3 682.2,773.1 682.6,773.4 683.0,773.5 683.4,773.5 683.7,771.7 684.1,772.6 684.5,773.9 684.9,773.1 685.3,773.4 685.7,772.7 686.0,772.4 686.4,773.3 686.8,772.4 687.2,772.6 687.6,772.6 688.0,772.5 688.4,773.4 688.7,773.7 689.1,771.8 689.5,772.8 689.9,772.7 690.2,774.0 690.6,772.8 691.0,774.4 691.3,774.5 691.7,774.6 692.1,773.6 692.5,774.4 692.8,773.9 693.2,775.2 693.6,775.5 694.0,773.5 694.4,773.9 694.8,774.2 695.2,773.8 695.6,775.1 695.9,773.8 696.3,773.9 696.7,772.8 697.1,774.5 697.5,773.4 697.9,773.7 698.3,773.1 698.7,771.7 699.0,772.2 699.4,772.6 699.8,774.0 700.2,773.5 700.5,774.4 700.9,774.4 701.3,774.6 701.6,775.2 702.0,774.9 702.4,773.9 702.8,774.7 703.1,776.4 703.5,774.8 703.9,776.5 704.3,776.7 704.7,775.3 705.1,776.0 705.5,774.9 705.8,776.4 706.2,775.5 706.6,775.2 707.0,775.9 707.4,775.9 707.8,775.5 708.2,775.7 708.5,775.1 708.9,774.5 709.3,775.2 709.7,775.7 710.1,774.0 710.4,773.2 710.8,772.7 711.2,773.4 711.6,772.6 712.0,772.6 712.4,771.2 712.7,771.5 713.1,771.2 713.5,772.3 713.9,771.3 714.3,769.9 714.6,771.3 715.0,771.5 715.4,771.4 715.8,769.1 716.2,771.0 716.6,771.9 716.9,772.3 717.3,772.3 717.7,772.0 718.1,772.1 718.5,771.5 718.9,771.4 719.3,770.7 719.7,769.6 720.1,769.6 720.5,767.9 720.9,767.4 721.3,767.5 721.7,767.6 722.1,766.9 722.5,767.4 722.9,766.7 723.2,763.4 723.5,761.4 723.8,758.3 724.1,755.7 724.4,751.4 724.8,748.7 725.1,744.4 725.5,739.0 725.8,736.3 726.2,732.2 726.6,727.6 727.0,724.1 727.4,721.1 727.8,716.1 728.2,712.7 728.6,709.4 729.0,704.8 729.4,701.1 729.8,697.5 730.2,694.2 730.6,690.8 730.9,686.0 731.3,681.8 731.7,678.6 732.1,674.4 732.5,670.9 732.9,666.6 733.3,662.7 733.7,658.8 734.1,654.5 734.5,649.7 734.9,645.2 735.3,642.2 735.7,638.2 736.1,633.0 736.5,626.9 736.9,623.0 737.3,618.8 737.7,612.7 738.1,610.9 738.5,608.6 738.8,606.0 739.2,603.7 739.6,602.2 740.0,600.1 740.4,598.9 740.7,598.5 741.1,595.9 741.5,594.0 741.9,593.9 742.2,593.2 742.6,590.9 743.0,591.4 743.4,591.0 743.8,591.6 744.2,593.2 744.6,593.4 745.0,594.9 745.4,596.1 745.7,597.6 746.1,599.4 746.5,601.1 746.9,605.6 747.3,608.4 747.7,612.1 748.1,616.2 748.5,619.7 748.9,624.6 749.3,629.9 749.7,634.8 750.1,638.9 750.5,645.0 750.9,647.3 751.2,649.8 751.6,652.5 752.0,654.6 752.3,657.9 752.7,659.7 753.0,662.3 753.4,664.9 753.8,665.9 754.1,667.6 754.5,668.9 754.9,670.2 755.3,670.8 755.6,672.0 756.0,673.4 756.4,675.0 756.8,673.4 757.1,673.3 757.5,672.4 757.8,672.0 758.2,671.2 758.6,671.4 758.9,670.6 759.3,670.2 759.7,667.4 760.0,665.6 760.4,664.0 760.8,663.1 761.2,661.3 761.5,658.3 761.9,657.0 762.3,655.9 762.7,652.2 763.0,650.4 763.4,648.9 763.8,646.3 764.1,643.3 764.5,642.3 764.8,639.8 765.2,637.4 765.6,634.4 766.0,632.8 766.3,631.5 766.7,629.0 767.1,627.0 767.5,624.4 767.8,623.2 768.2,620.3 768.6,620.5 769.0,619.8 769.4,618.8 769.8,619.6 770.2,617.8 770.5,617.7 770.9,617.7 771.3,616.6 771.7,616.0 772.1,616.4 772.5,617.0 772.9,617.8 773.2,619.0 773.6,620.5 774.0,620.0 774.4,622.0 774.7,621.8 775.1,622.3 775.5,622.9 775.9,624.9 776.2,627.3 776.6,629.1 777.0,630.0 777.4,632.1 777.7,634.0 778.1,634.9 778.5,639.1 778.9,644.2 779.2,649.2 779.6,654.2 780.0,659.2 780.4,662.3 780.8,666.7 781.2,670.5 781.6,674.6 782.0,679.0 782.4,682.6 782.8,685.2 783.2,688.5 783.6,692.0 784.0,695.5 784.4,699.0 784.8,699.1 785.2,698.9 785.6,698.7 786.0,698.6 786.3,699.2 786.7,700.3 787.1,699.5 787.5,699.5 787.9,699.4 788.3,698.2 788.6,698.4 789.0,696.4 789.4,695.3 789.8,694.3 790.1,694.1 790.5,692.7 790.9,691.9 791.3,691.7 791.6,691.4 792.0,692.0 792.3,691.0 792.7,692.7 793.1,690.5 793.4,690.7 793.8,691.3 794.2,691.9 794.6,692.0 794.9,692.8 795.3,693.2 795.7,693.6 796.1,694.3 796.4,694.6 796.8,694.9 797.2,695.3 797.6,696.3 797.9,696.2 798.3,697.0 798.7,697.9 799.1,696.9 799.5,696.8 799.8,695.5 800.2,695.4 800.6,695.0 801.0,694.4 801.3,694.0 801.7,694.0 802.1,692.2 802.5,691.0 802.8,690.5 803.2,688.7 803.6,688.4 804.0,688.0 804.3,686.4 804.7,685.7 805.1,684.6 805.5,684.0 805.8,682.7 806.2,681.6 806.6,679.4 807.0,680.6 807.4,681.6 807.7,681.5 808.1,681.6 808.5,682.7 808.9,682.3 809.2,682.9 809.6,683.7 810.0,684.4 810.4,686.0 810.8,687.2 811.2,688.0 811.5,689.6 811.9,690.9 812.3,692.1 812.7,694.2 813.1,695.0 813.5,696.0 813.9,696.6 814.3,698.1 814.7,699.8 815.1,700.0 815.5,701.5 815.9,702.4 816.3,702.9 816.7,703.7 817.1,705.3 817.5,705.3 817.9,706.6 818.3,706.1 818.6,707.4 819.0,707.1 819.4,707.5 819.8,708.4 820.1,707.7 820.5,708.5 820.9,708.6 821.3,709.3 821.6,709.7 822.0,709.8 822.4,710.1 822.8,710.0 823.1,710.7 823.5,710.5 823.8,710.8 824.2,711.1 824.6,710.5 824.9,710.9 825.3,711.7 825.7,711.4 826.1,711.8 826.5,710.1 826.9,711.0 827.3,711.3 827.7,710.7 828.1,710.8 828.5,710.3 828.9,710.1 829.3,710.4 829.7,709.8 830.1,709.7 830.4,711.4 830.8,711.6 831.2,712.0 831.6,712.4 831.9,713.0 832.3,712.9 832.7,713.7 833.1,714.0 833.4,713.7 833.8,714.5 834.2,715.1 834.6,714.7 835.0,715.6 835.4,715.0 835.7,715.6 836.1,715.9 836.5,714.6 836.9,714.8 837.3,715.7 837.7,715.4 838.0,715.8 838.4,716.4 838.8,715.4 839.2,716.1 839.6,715.7 840.0,715.5 840.3,716.1 840.7,716.1 841.1,716.5 841.5,715.8 841.9,715.8 842.2,715.3 842.6,714.0 843.0,714.3 843.4,714.0 843.7,714.3 844.1,713.1 844.5,713.3 844.9,712.7 845.2,711.8 845.6,712.2 846.0,712.3 846.4,711.5 846.8,711.8 847.2,711.3 847.6,711.0 848.0,710.3 848.4,710.2 848.8,710.2 849.2,709.7 849.6,708.8 850.0,709.0 850.4,709.8 850.7,710.6 851.1,710.9 851.5,710.6 851.8,711.9 852.2,711.3 852.5,712.2 852.9,712.6 853.3,714.5 853.7,714.9 854.1,715.5 854.5,715.9 854.9,717.5 855.3,717.6 855.7,718.7 856.1,719.8 856.5,720.0 856.9,721.1 857.3,720.7 857.7,722.5 858.1,722.2 858.5,723.8 858.8,724.5 859.2,725.2 859.6,726.7 860.0,725.4 860.4,727.0 860.7,727.0 861.1,727.9 861.5,728.0 861.9,728.3 862.2,728.4 862.6,728.7 863.0,729.5 863.3,729.1 863.7,730.6 864.1,729.4 864.4,729.4 864.8,728.2 865.2,728.5 865.5,727.7 865.9,727.7 866.3,727.4 866.7,726.2 867.0,726.0 867.4,725.6 867.8,725.5 868.1,723.6 868.5,723.8 868.9,722.9 869.2,721.7 869.6,721.5 870.0,720.7 870.4,720.8 870.7,719.2 871.1,719.5 871.5,718.6 871.9,718.8 872.3,717.5 872.7,717.6 873.1,717.8 873.5,717.1 873.9,716.5 874.2,717.0 874.6,717.1 875.0,716.4 875.4,716.1 875.8,716.1 876.2,715.5 876.6,715.8 877.0,715.6 877.4,714.2 877.8,714.9 878.2,714.4 878.6,713.9 879.0,713.7 879.4,713.7 879.7,713.6 880.1,713.1 880.5,712.0 880.9,712.3 881.3,710.7 881.7,711.5 882.1,711.0 882.5,710.9 882.8,709.8 883.2,710.6 883.6,710.3 884.0,709.6 884.3,708.6 884.7,709.1 885.1,708.4 885.5,707.8 885.8,707.9 886.2,709.0 886.6,707.1 887.0,707.4 887.3,707.3 887.7,707.4 888.1,706.0 888.5,705.5 888.9,705.7 889.3,704.9 889.7,704.7 890.1,703.1 890.5,703.0 890.8,702.9 891.2,702.0 891.6,700.9 892.0,700.8 892.4,699.4 892.8,699.3 893.2,699.4 893.6,699.4 894.0,699.2 894.4,699.2 894.8,698.2 895.2,698.6 895.6,699.3 896.0,699.7 896.3,698.9 896.7,698.2 897.1,698.2 897.5,699.1 897.9,699.0 898.3,697.9 898.7,698.5 899.1,699.1 899.5,699.3 899.9,698.6 900.3,698.9 900.7,699.3 901.0,698.8 901.4,698.7 901.8,699.3 902.2,700.3 902.6,700.4 903.0,700.3 903.4,699.7 903.8,699.9 904.2,700.9 904.5,701.9 904.9,702.9 905.3,702.6 905.7,703.6 906.1,703.4 906.5,703.8 906.9,705.3 907.2,705.3 907.6,705.9 908.0,706.0 908.4,707.5 908.8,706.6 909.1,707.7 909.5,707.2 909.9,707.9 910.3,708.9 910.7,708.7 911.1,708.9 911.5,709.4 911.8,709.5 912.2,710.1 912.6,709.1 913.0,711.1 913.4,711.3 913.8,711.6 914.1,713.1 914.5,713.8 914.9,714.3 915.3,715.5 915.7,715.3 916.1,715.9 916.4,717.2 916.8,718.7 917.2,719.2 917.6,719.8 918.0,720.4 918.4,721.5 918.8,722.9 919.2,723.0 919.6,723.9 920.0,725.2 920.3,726.1 920.7,726.7 921.1,728.2 921.5,728.5 921.9,728.8 922.3,729.2 922.7,731.5 923.1,731.4 923.5,732.2 923.9,732.8 924.3,733.7 924.7,734.1 925.1,734.6 925.5,734.8 925.9,735.1 926.3,735.9 926.7,735.9 927.1,737.0 927.5,737.8 927.9,738.2 928.3,738.5 928.7,738.4 929.1,738.7 929.5,739.1 929.8,739.5 930.2,740.2 930.6,740.5 931.0,740.9 931.4,741.4 931.8,740.9 932.1,741.5 932.5,742.2 932.9,742.6 933.3,742.3 933.7,742.6 934.1,743.7 934.4,743.8 934.8,744.1 935.2,744.1 935.6,744.1 936.0,744.6 936.4,744.9 936.8,745.1 937.2,745.4 937.5,745.2 937.9,745.9 938.3,745.3 938.7,745.7 939.1,745.8 939.5,745.1 939.9,745.5 940.3,745.9 940.7,746.3 941.1,746.6 941.4,747.1 941.8,746.7 942.2,746.7 942.6,747.1 943.0,746.6 943.4,747.1 943.8,746.9 944.2,747.5 944.6,747.3 944.9,747.6 945.3,748.7 945.7,748.4 946.1,749.1 946.5,748.3 946.9,748.3 947.3,748.2 947.7,748.6 948.1,748.0 948.5,748.9 948.8,748.8 949.2,748.6 949.6,748.5 950.0,749.0 950.4,749.3 950.8,749.2 951.2,748.4 951.6,748.8 952.0,748.7 952.4,749.3 952.8,748.3 953.1,748.3 953.5,747.4 953.9,747.4 954.3,746.9 954.7,746.6 955.1,747.0 955.5,746.4 955.9,746.9 956.3,746.2 956.7,746.2 957.1,745.4 957.5,745.4 957.8,745.9 958.2,745.3 958.6,745.9 959.0,744.9 959.4,744.8 959.8,745.8 960.2,744.2 960.6,744.6 961.0,744.9 961.4,744.8 961.7,743.9 962.1,745.2 962.5,744.0 962.9,743.2 963.3,744.3 963.7,743.5 964.1,743.5 964.5,743.6 964.9,742.8 965.2,742.7 965.6,742.7 966.0,742.9 966.4,741.8 966.8,742.8 967.2,742.2 967.6,741.4 968.0,741.6 968.4,741.7 968.8,741.7 969.1,741.4 969.5,741.3 969.9,740.6 970.3,740.8 970.7,739.4 971.1,740.5 971.5,739.8 971.9,740.2 972.3,739.1 972.6,738.9 973.0,738.8 973.4,738.9 973.8,738.5 974.2,738.5 974.6,737.8 975.0,738.0 975.4,738.3 975.8,737.6 976.2,737.1 976.5,736.0 976.9,736.6 977.3,736.5 977.7,735.8 978.1,736.0 978.5,734.5 978.9,734.9 979.3,734.5 979.7,734.9 980.1,734.1 980.5,733.8 980.9,734.5 981.3,733.1 981.7,733.7 982.1,733.7 982.5,732.9 982.9,732.4 983.3,732.4 983.7,732.0 984.1,731.7 984.5,731.9 984.9,731.5 985.3,732.2 985.7,731.6 986.1,730.9 986.5,730.8 986.9,731.0 987.3,730.6 987.7,729.7 988.1,728.9 988.4,729.5 988.8,728.3 989.2,727.9 989.6,727.9 990.0,727.0 990.4,727.0 990.8,725.9 991.1,725.6 991.5,725.0 991.9,725.5 992.3,723.4 992.6,723.2 993.0,722.3 993.4,721.7 993.8,720.8 994.1,720.4 994.5,720.5 994.9,720.0 995.2,718.5 995.6,717.6 996.0,717.9 996.4,718.7 996.7,718.0 997.1,717.1 997.5,718.3 997.9,717.9 998.3,718.1 998.7,718.0 999.0,717.3 999.4,718.2 999.8,718.0 1000.2,717.5 1000.6,716.8 1001.0,717.2 1001.3,717.2 1001.7,717.9 1002.1,717.4 1002.5,717.2 1002.8,717.2 1003.2,716.7 1003.6,716.9 1004.0,716.6 1004.3,716.7 1004.7,715.5 1005.1,716.0 1005.4,715.5 1005.8,716.3 1006.2,716.1 1006.6,715.4 1007.0,716.0 1007.3,715.0 1007.7,715.3 1008.1,715.7 1008.5,716.0 1008.9,715.5 1009.3,716.1 1009.6,716.7 1010.0,715.5 1010.4,715.7 1010.8,715.5 1011.2,716.9 1011.6,716.0 1011.9,716.4 1012.3,716.3 1012.7,716.7 1013.1,716.6 1013.5,716.6 1013.8,716.4 1014.2,716.8 1014.6,715.4 1015.0,715.7 1015.3,715.3 1015.7,714.7 1016.1,715.2 1016.4,715.4 1016.8,713.9 1017.2,715.5 1017.5,714.4 1017.9,714.5 1018.3,713.7 1018.7,714.7 1019.0,714.7 1019.4,714.7 1019.8,715.2 1020.2,714.9 1020.5,715.2 1020.9,714.8 1021.3,714.7 1021.7,715.3 1022.0,715.6 1022.4,715.7 1022.8,715.5 1023.2,715.1 1023.6,715.5 1023.9,715.5 1024.3,715.0 1024.7,715.8 1025.1,715.6 1025.5,715.3 1025.9,715.7 1026.2,716.1 1026.6,716.6 1027.0,715.1 1027.4,715.8 1027.8,716.3 1028.2,716.6 1028.5,716.3 1028.9,715.7 1029.3,716.0 1029.7,716.3 1030.1,715.8 1030.5,715.6 1030.9,715.3 1031.3,716.9 1031.7,715.7 1032.1,715.5 1032.5,715.8 1032.9,715.4 1033.3,715.2 1033.7,715.2 1034.0,714.7 1034.4,714.7 1034.8,715.2 1035.2,715.0 1035.6,714.1 1036.0,715.2 1036.4,714.2 1036.8,713.5 1037.2,714.5 1037.6,714.3 1038.0,714.0 1038.4,713.5 1038.8,714.7 1039.2,714.5 1039.6,714.6 1040.0,714.6 1040.3,714.8 1040.7,715.9 1041.1,714.7 1041.5,715.2 1041.9,715.7 1042.3,715.7 1042.7,715.0 1043.1,715.6 1043.5,715.8 1043.8,715.5 1044.2,716.4 1044.6,717.3 1045.0,717.2 1045.4,717.9 1045.8,717.8 1046.2,717.5 1046.5,718.4 1046.9,717.6 1047.3,719.3"/>
</g>
<g stroke="#000" stroke-width="2.6" fill="none">
<line x1="116.5" y1="24.8" x2="116.5" y2="794.5"/>
<line x1="1048.5" y1="24.8" x2="1048.5" y2="794.5"/>
<line x1="115.2" y1="26.1" x2="1049.8" y2="26.1"/>
<line x1="115.2" y1="780.0" x2="574.5" y2="780.0"/>
<line x1="590.8" y1="780.0" x2="1049.8" y2="780.0"/>
<line x1="259.7" y1="779" x2="259.7" y2="794.5"/><line x1="402.7" y1="779" x2="402.7" y2="794.5"/><line x1="545.7" y1="779" x2="545.7" y2="794.5"/><line x1="644.4" y1="779" x2="644.4" y2="794.5"/><line x1="779.1" y1="779" x2="779.1" y2="794.5"/><line x1="913.8" y1="779" x2="913.8" y2="794.5"/><line x1="188.3" y1="779" x2="188.3" y2="787"/><line x1="331.3" y1="779" x2="331.3" y2="787"/><line x1="474.3" y1="779" x2="474.3" y2="787"/><line x1="711.8" y1="779" x2="711.8" y2="787"/><line x1="846.5" y1="779" x2="846.5" y2="787"/><line x1="981.2" y1="779" x2="981.2" y2="787"/>
</g>
<g stroke="#000" stroke-width="2.6" fill="none">
<line x1="566.8" y1="794.2" x2="582.6" y2="765.9"/>
<line x1="582.9" y1="794.2" x2="598.7" y2="766.3"/>
</g>
<g font-size="28.9"><text x="116.5" y="0" transform="translate(0,827.5) scale(1,1.08)" text-anchor="middle">4000</text><text x="259.7" y="0" transform="translate(0,827.5) scale(1,1.08)" text-anchor="middle">3500</text><text x="402.7" y="0" transform="translate(0,827.5) scale(1,1.08)" text-anchor="middle">3000</text><text x="545.7" y="0" transform="translate(0,827.5) scale(1,1.08)" text-anchor="middle">2500</text><text x="644.4" y="0" transform="translate(0,827.5) scale(1,1.08)" text-anchor="middle">2000</text><text x="779.1" y="0" transform="translate(0,827.5) scale(1,1.08)" text-anchor="middle"><tspan fill="transparent">1</tspan>500</text><text x="913.8" y="0" transform="translate(0,827.5) scale(1,1.08)" text-anchor="middle"><tspan fill="transparent">1</tspan>000</text><text x="1048.5" y="0" transform="translate(0,827.5) scale(1,1.08)" text-anchor="middle">500</text></g>
<g font-weight="bold">
<text transform="translate(418.5,890.2) scale(1,1.07)" font-size="33" letter-spacing="1.6">Wavenumber (cm</text>
<text transform="translate(714.3,873.4) scale(1,1.07)" font-size="22" letter-spacing="0.8">-<tspan fill="transparent">1</tspan></text>
<text transform="translate(735,890.2) scale(1,1.07)" font-size="33">)</text>
<text transform="translate(55.6,387.6) rotate(-90)" font-size="36" letter-spacing="0.07" text-anchor="middle">Absorbance (A.U.)</text>
</g>
<g font-size="31.4" font-weight="bold" letter-spacing="2.0">
<text transform="translate(128,365.8) scale(1,1.1)">SPCc</text>
<text transform="translate(127.5,514.1) scale(1,1.1)" letter-spacing="1.5">SPCa</text>
<text transform="translate(132.5,734.9) scale(1,1.1)">SPC</text>
</g>
<g font-weight="bold">
<text transform="translate(715.5,70) scale(1,1.07)" font-size="26.6" letter-spacing="1.0"><tspan fill="transparent">1</tspan>637</text><text transform="translate(786.3,70) scale(1,1.07)" font-size="26.6" letter-spacing="0.6">cm</text><text transform="translate(827.3,64) scale(1,1.07)" font-size="21" letter-spacing="0.6">-<tspan fill="transparent">1</tspan></text>
<text transform="translate(761.7,125.5) scale(1,1.07)" font-size="26.6" letter-spacing="1.0"><tspan fill="transparent">1</tspan>525</text><text transform="translate(832.4,125.5) scale(1,1.07)" font-size="26.6" letter-spacing="0.6">cm</text><text transform="translate(873,119.5) scale(1,1.07)" font-size="21" letter-spacing="0.6">-<tspan fill="transparent">1</tspan></text>
<text transform="translate(843.2,215) scale(1,1.07)" font-size="26.6" letter-spacing="1.0"><tspan fill="transparent">1</tspan>230</text><text transform="translate(913.8,215) scale(1,1.07)" font-size="26.6" letter-spacing="0.6">cm</text><text transform="translate(955.2,209) scale(1,1.07)" font-size="21" letter-spacing="0.6">-<tspan fill="transparent">1</tspan></text>
</g>
<line x1="741.5" y1="82" x2="741.5" y2="115.2" stroke="#000" stroke-width="0.65"/><polygon points="736.5,113.2 746.7,113.2 741.6,133.7" fill="#000"/>
<line x1="770.5" y1="137" x2="770.5" y2="147.1" stroke="#000" stroke-width="0.65"/><polygon points="766.1,145.1 776.1,145.1 771.1,165.6" fill="#000"/>
<line x1="852.0" y1="233.6" x2="852.0" y2="255.5" stroke="#000" stroke-width="0.75"/><polygon points="847.2,253.5 857.0,253.5 852.1,273.4" fill="#000"/>
<g fill="#000">
<polygon points="726.00,69.75 726.00,50.55 722.26,50.55 717.00,55.41 717.00,58.81 721.75,56.00 721.75,69.75"/><polygon points="772.00,126.10 772.00,106.60 768.21,106.60 762.90,111.53 762.90,114.98 767.70,112.14 767.70,126.10"/><polygon points="853.00,215.00 853.00,195.90 849.21,195.90 843.90,200.73 843.90,204.11 848.70,201.32 848.70,215.00"/>
<polygon points="843.00,64.00 843.00,48.10 840.17,48.10 836.20,52.12 836.20,54.94 839.79,52.62 839.79,64.00"/><polygon points="889.40,119.60 889.40,103.70 886.57,103.70 882.60,107.72 882.60,110.54 886.19,108.22 886.19,119.60"/><polygon points="969.90,209.10 969.90,193.20 967.07,193.20 963.10,197.22 963.10,200.04 966.69,197.72 966.69,209.10"/>
<polygon points="731.10,873.80 731.10,856.80 727.69,856.80 722.90,861.10 722.90,864.11 727.23,861.63 727.23,873.80"/>
<polygon points="757.90,827.30 757.90,806.00 756.20,806.00 750.00,811.20 750.00,813.60 755.00,811.79 755.00,827.30"/><polygon points="892.50,827.30 892.50,806.00 890.80,806.00 884.60,811.20 884.60,813.60 889.60,811.79 889.60,827.30"/>
</g>
</svg>
</body></html>
